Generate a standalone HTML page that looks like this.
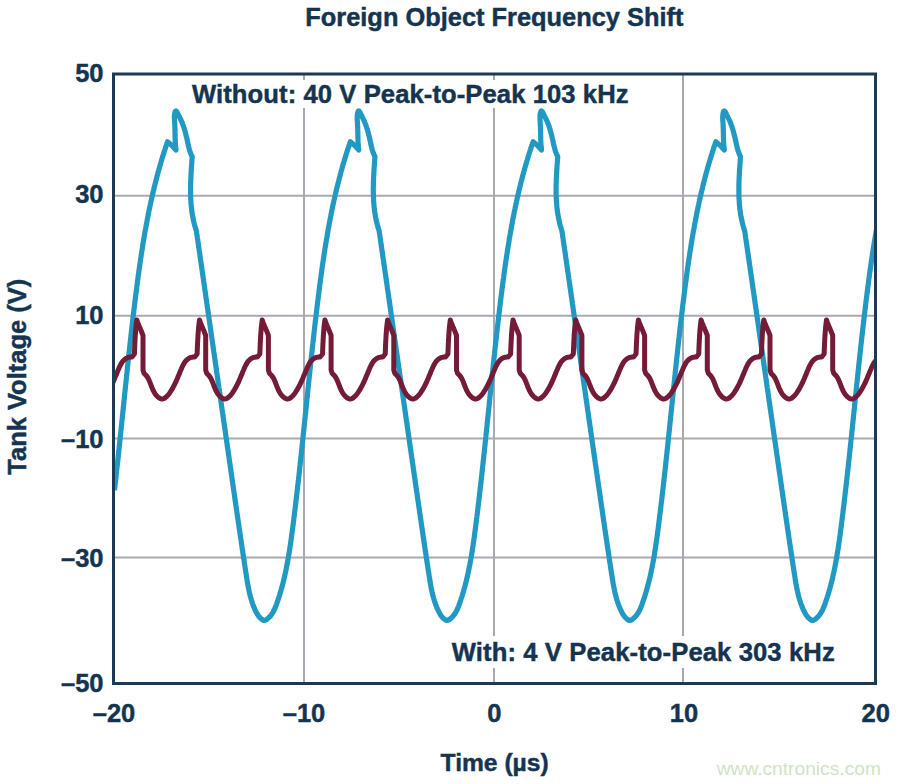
<!DOCTYPE html>
<html><head><meta charset="utf-8">
<style>
html,body{margin:0;padding:0;background:#fff;width:900px;height:784px;overflow:hidden}
svg{display:block}
text{font-family:"Liberation Sans",sans-serif;font-weight:bold;fill:#14344f;stroke:#14344f;stroke-width:0.45px}
</style></head><body>
<svg width="900" height="784" viewBox="0 0 900 784">
<defs><clipPath id="plotclip"><rect x="113.5" y="74" width="762" height="609.5"/></clipPath></defs>
<rect width="900" height="784" fill="#fff"/>
<!-- grid -->
<g stroke="#aaa9b1" stroke-width="2" fill="none">
<line x1="115" y1="195.8" x2="874" y2="195.8"/>
<line x1="115" y1="315.8" x2="874" y2="315.8"/>
<line x1="115" y1="438.5" x2="874" y2="438.5"/>
<line x1="115" y1="557.6" x2="874" y2="557.6"/>
<line x1="304" y1="75" x2="304" y2="682"/>
<line x1="494" y1="75" x2="494" y2="682"/>
<line x1="683" y1="75" x2="683" y2="682"/>
</g>
<!-- label backgrounds -->
<rect x="186" y="80" width="448" height="28" fill="#fff"/>
<rect x="446" y="636" width="394" height="32" fill="#fff"/>
<!-- waves -->
<g id="waves" fill="none" stroke-linejoin="round" stroke-linecap="butt" clip-path="url(#plotclip)">
<path d="M114.5,490.4 114.6,489.2 114.7,488.0 114.9,486.8 115.0,485.6 115.1,484.4 115.3,483.2 115.4,482.0 115.6,480.8 115.7,479.7 115.8,478.5 116.0,477.3 116.1,476.1 116.2,474.9 116.4,473.7 116.5,472.5 116.6,471.3 116.7,470.1 116.9,468.9 117.0,467.7 117.1,466.5 117.3,465.3 117.4,464.1 117.5,462.9 117.7,461.7 117.8,460.5 117.9,459.4 118.0,458.2 118.2,457.0 118.3,455.8 118.4,454.6 118.6,453.4 118.7,452.2 118.8,451.0 118.9,449.8 119.1,448.6 119.2,447.4 119.3,446.2 119.4,445.0 119.6,443.8 119.7,442.6 119.8,441.4 119.9,440.2 120.1,439.0 120.2,437.8 120.3,436.6 120.4,435.5 120.6,434.3 120.7,433.1 120.8,431.9 120.9,430.7 121.1,429.5 121.2,428.3 121.3,427.1 121.4,425.9 121.6,424.7 121.7,423.5 121.8,422.3 121.9,421.1 122.1,419.9 122.2,418.7 122.3,417.5 122.4,416.3 122.5,415.1 122.7,413.9 122.8,412.7 122.9,411.5 123.0,410.4 123.2,409.2 123.3,408.0 123.4,406.8 123.5,405.6 123.7,404.4 123.8,403.2 123.9,402.0 124.0,400.8 124.2,399.6 124.3,398.4 124.4,397.2 124.5,396.0 124.6,394.8 124.8,393.6 124.9,392.4 125.0,391.2 125.1,390.0 125.3,388.8 125.4,387.6 125.5,386.4 125.6,385.2 125.8,384.0 125.9,382.8 126.0,381.7 126.1,380.5 126.3,379.3 126.4,378.1 126.5,376.9 126.6,375.7 126.8,374.5 126.9,373.3 127.0,372.1 127.1,370.9 127.3,369.7 127.4,368.5 127.5,367.3 127.6,366.1 127.8,364.9 127.9,363.7 128.0,362.5 128.1,361.3 128.3,360.1 128.4,358.9 128.5,357.7 128.7,356.5 128.8,355.3 128.9,354.1 129.0,353.0 129.2,351.8 129.3,350.6 129.4,349.4 129.6,348.2 129.7,347.0 129.8,345.8 130.0,344.6 130.1,343.4 130.2,342.2 130.4,341.0 130.5,339.8 130.6,338.6 130.8,337.4 130.9,336.2 131.0,335.0 131.2,333.8 131.3,332.6 131.4,331.4 131.6,330.2 131.7,329.0 131.8,327.8 132.0,326.6 132.1,325.4 132.3,324.3 132.4,323.1 132.5,321.9 132.7,320.7 132.8,319.5 132.9,318.3 133.1,317.1 133.2,315.9 133.4,314.7 133.5,313.5 133.7,312.3 133.8,311.1 133.9,309.9 134.1,308.7 134.2,307.5 134.4,306.3 134.5,305.1 134.7,303.9 134.8,302.7 135.0,301.5 135.1,300.3 135.3,299.2 135.4,298.0 135.5,296.8 135.7,295.6 135.8,294.4 136.0,293.2 136.1,292.0 136.3,290.8 136.5,289.6 136.6,288.4 136.8,287.2 136.9,286.0 137.1,284.8 137.2,283.6 137.4,282.4 137.5,281.2 137.7,280.0 137.9,278.8 138.0,277.6 138.2,276.5 138.3,275.3 138.5,274.1 138.7,272.9 138.8,271.7 139.0,270.5 139.2,269.3 139.3,268.1 139.5,266.9 139.7,265.7 139.8,264.5 140.0,263.3 140.2,262.1 140.4,260.9 140.5,259.8 140.7,258.6 140.9,257.4 141.1,256.2 141.2,255.0 141.4,253.8 141.6,252.6 141.8,251.4 142.0,250.2 142.2,249.0 142.4,247.9 142.5,246.7 142.7,245.5 142.9,244.3 143.1,243.1 143.3,241.9 143.5,240.7 143.7,239.5 143.9,238.4 144.1,237.2 144.3,236.0 144.5,234.8 144.7,233.6 144.9,232.4 145.1,231.3 145.3,230.1 145.6,228.9 145.8,227.7 146.0,226.5 146.2,225.3 146.4,224.2 146.6,223.0 146.9,221.8 147.1,220.6 147.3,219.4 147.5,218.3 147.8,217.1 148.0,215.9 148.2,214.7 148.5,213.5 148.7,212.4 148.9,211.2 149.2,210.0 149.4,208.8 149.7,207.7 149.9,206.5 150.2,205.3 150.4,204.1 150.7,203.0 150.9,201.8 151.2,200.6 151.4,199.5 151.7,198.3 152.0,197.1 152.2,196.0 152.5,194.8 152.8,193.6 153.0,192.5 153.3,191.3 153.6,190.1 153.9,189.0 154.1,187.8 154.4,186.6 154.7,185.5 155.0,184.3 155.3,183.1 155.6,182.0 155.9,180.8 156.2,179.7 156.5,178.5 156.8,177.3 157.1,176.2 157.4,175.0 157.7,173.9 158.0,172.7 158.3,171.6 158.7,170.4 159.0,169.2 159.3,168.1 159.6,166.9 160.0,165.8 160.3,164.6 160.6,163.5 161.0,162.3 161.3,161.2 161.6,160.0 162.0,158.9 162.3,157.8 162.7,156.6 163.0,155.5 163.4,154.3 163.8,153.2 164.1,152.0 164.5,150.9 164.9,149.8 165.2,148.6 165.6,147.5 166.0,146.3 166.4,145.2 166.8,144.1 167.1,142.9 167.5,141.8 171.9,145.5 176.0,150.0 175.8,148.7 175.7,147.5 175.6,146.2 175.5,145.0 175.4,143.8 175.3,142.6 175.3,141.4 175.2,140.2 175.2,139.0 175.1,137.8 175.1,136.6 175.1,135.4 175.1,134.2 175.0,133.0 175.0,131.8 175.0,130.6 175.0,129.4 174.9,128.2 174.9,127.0 174.8,125.8 174.8,124.5 174.7,123.3 174.6,122.0 174.5,120.7 174.5,119.4 174.4,118.2 174.4,116.9 174.5,115.6 174.6,114.4 174.8,113.1 175.1,112.0 175.5,111.1 176.0,110.9 176.6,111.4 177.1,112.3 177.8,113.5 178.4,114.8 179.0,116.0 179.6,117.2 180.1,118.3 180.7,119.4 181.2,120.5 181.7,121.6 182.2,122.7 182.6,123.9 183.0,125.0 183.4,126.1 183.8,127.3 184.2,128.4 184.6,129.6 184.9,130.8 185.2,131.9 185.5,133.1 185.8,134.3 186.1,135.5 186.4,136.7 186.7,137.8 187.0,139.0 187.2,140.2 187.5,141.4 187.7,142.6 188.0,143.8 188.3,145.0 188.5,146.2 188.8,147.4 189.1,148.5 189.4,149.7 189.8,150.9 190.2,152.0 190.6,153.2 191.1,154.3 191.6,155.4 192.2,156.5 192.1,157.7 192.0,159.0 191.9,160.2 191.8,161.4 191.8,162.6 191.7,163.9 191.6,165.1 191.5,166.3 191.4,167.6 191.3,168.8 191.3,170.0 191.2,171.3 191.1,172.5 191.1,173.7 191.0,175.0 190.9,176.2 190.9,177.4 190.8,178.7 190.8,179.9 190.7,181.1 190.7,182.3 190.6,183.6 190.6,184.8 190.6,186.0 190.6,187.3 190.6,188.5 190.6,189.7 190.6,191.0 190.6,192.2 190.6,193.4 190.6,194.6 190.6,195.9 190.7,197.1 190.7,198.3 190.8,199.5 190.9,200.8 190.9,202.0 191.0,203.2 191.1,204.4 191.2,205.7 191.4,206.9 191.5,208.1 191.6,209.3 191.8,210.5 191.9,211.7 192.1,213.0 192.3,214.2 192.5,215.4 192.7,216.6 193.0,217.8 193.2,219.0 193.4,220.2 193.7,221.4 194.0,222.6 194.3,223.8 194.6,225.0 194.9,226.2 195.3,227.4 195.6,228.6 196.0,229.8 196.4,231.0 196.6,232.2 196.7,233.4 196.9,234.6 197.1,235.8 197.3,237.0 197.4,238.1 197.6,239.3 197.8,240.5 198.0,241.7 198.1,242.9 198.3,244.1 198.5,245.3 198.6,246.5 198.8,247.7 199.0,248.9 199.2,250.1 199.3,251.3 199.5,252.4 199.7,253.6 199.9,254.8 200.0,256.0 200.2,257.2 200.4,258.4 200.5,259.6 200.7,260.8 200.9,262.0 201.1,263.2 201.2,264.4 201.4,265.5 201.6,266.7 201.8,267.9 201.9,269.1 202.1,270.3 202.3,271.5 202.4,272.7 202.6,273.9 202.8,275.1 203.0,276.3 203.1,277.5 203.3,278.6 203.5,279.8 203.6,281.0 203.8,282.2 204.0,283.4 204.2,284.6 204.3,285.8 204.5,287.0 204.7,288.2 204.8,289.4 205.0,290.6 205.2,291.7 205.4,292.9 205.5,294.1 205.7,295.3 205.9,296.5 206.0,297.7 206.2,298.9 206.4,300.1 206.6,301.3 206.7,302.5 206.9,303.6 207.1,304.8 207.2,306.0 207.4,307.2 207.6,308.4 207.8,309.6 207.9,310.8 208.1,312.0 208.3,313.2 208.4,314.4 208.6,315.5 208.8,316.7 209.0,317.9 209.1,319.1 209.3,320.3 209.5,321.5 209.6,322.7 209.8,323.9 210.0,325.1 210.2,326.3 210.3,327.4 210.5,328.6 210.7,329.8 210.8,331.0 211.0,332.2 211.2,333.4 211.4,334.6 211.5,335.8 211.7,337.0 211.9,338.2 212.0,339.4 212.2,340.5 212.4,341.7 212.5,342.9 212.7,344.1 212.9,345.3 213.1,346.5 213.2,347.7 213.4,348.9 213.6,350.1 213.7,351.3 213.9,352.4 214.1,353.6 214.3,354.8 214.4,356.0 214.6,357.2 214.8,358.4 214.9,359.6 215.1,360.8 215.3,362.0 215.4,363.2 215.6,364.3 215.8,365.5 216.0,366.7 216.1,367.9 216.3,369.1 216.5,370.3 216.6,371.5 216.8,372.7 217.0,373.9 217.2,375.1 217.3,376.2 217.5,377.4 217.7,378.6 217.8,379.8 218.0,381.0 218.2,382.2 218.3,383.4 218.5,384.6 218.7,385.8 218.9,387.0 219.0,388.1 219.2,389.3 219.4,390.5 219.5,391.7 219.7,392.9 219.9,394.1 220.1,395.3 220.2,396.5 220.4,397.7 220.6,398.9 220.7,400.0 220.9,401.2 221.1,402.4 221.3,403.6 221.4,404.8 221.6,406.0 221.8,407.2 221.9,408.4 222.1,409.6 222.3,410.8 222.4,411.9 222.6,413.1 222.8,414.3 223.0,415.5 223.1,416.7 223.3,417.9 223.5,419.1 223.6,420.3 223.8,421.5 224.0,422.7 224.2,423.8 224.3,425.0 224.5,426.2 224.7,427.4 224.8,428.6 225.0,429.8 225.2,431.0 225.4,432.2 225.5,433.4 225.7,434.6 225.9,435.8 226.0,436.9 226.2,438.1 226.4,439.3 226.6,440.5 226.7,441.7 226.9,442.9 227.1,444.1 227.2,445.3 227.4,446.5 227.6,447.7 227.8,448.9 227.9,450.0 228.1,451.2 228.3,452.4 228.4,453.6 228.6,454.8 228.8,456.0 229.0,457.2 229.1,458.4 229.3,459.6 229.5,460.8 229.6,462.0 229.8,463.1 230.0,464.3 230.2,465.5 230.3,466.7 230.5,467.9 230.7,469.1 230.8,470.3 231.0,471.5 231.2,472.7 231.4,473.9 231.5,475.1 231.7,476.3 231.9,477.4 232.0,478.6 232.2,479.8 232.4,481.0 232.6,482.2 232.7,483.4 232.9,484.6 233.1,485.8 233.2,487.0 233.4,488.2 233.6,489.4 233.8,490.6 233.9,491.8 234.1,492.9 234.3,494.1 234.5,495.3 234.6,496.5 234.8,497.7 235.0,498.9 235.1,500.1 235.3,501.3 235.5,502.5 235.7,503.7 235.8,504.9 236.0,506.1 236.2,507.3 236.4,508.4 236.5,509.6 236.7,510.8 236.9,512.0 237.0,513.2 237.2,514.4 237.4,515.6 237.6,516.8 237.7,518.0 237.9,519.2 238.1,520.4 238.3,521.6 238.4,522.8 238.6,523.9 238.8,525.1 239.0,526.3 239.1,527.5 239.3,528.7 239.5,529.9 239.7,531.1 239.8,532.3 240.0,533.5 240.2,534.7 240.4,535.9 240.5,537.1 240.7,538.3 240.9,539.4 241.1,540.6 241.2,541.8 241.4,543.0 241.6,544.2 241.8,545.4 241.9,546.6 242.1,547.8 242.3,549.0 242.5,550.2 242.7,551.3 242.8,552.5 243.0,553.7 243.2,554.9 243.4,556.1 243.5,557.3 243.7,558.5 243.9,559.7 244.1,560.9 244.3,562.0 244.4,563.2 244.6,564.4 244.8,565.6 245.0,566.8 245.2,568.0 245.4,569.2 245.5,570.4 245.7,571.5 245.9,572.7 246.1,573.9 246.3,575.1 246.5,576.3 246.6,577.5 246.8,578.6 247.0,579.8 247.2,581.0 247.4,582.2 247.6,583.4 247.8,584.5 248.0,585.7 248.2,586.9 248.5,588.1 248.7,589.2 249.0,590.4 249.2,591.6 249.5,592.7 249.7,593.9 250.0,595.1 250.3,596.2 250.6,597.4 251.0,598.5 251.3,599.7 251.7,600.8 252.0,602.0 252.4,603.1 252.8,604.3 253.2,605.4 253.7,606.5 254.1,607.7 254.6,608.8 255.1,609.9 255.6,611.0 256.2,612.1 256.8,613.2 257.4,614.3 258.1,615.3 258.8,616.3 259.5,617.2 260.4,618.1 261.3,618.9 262.2,619.6 263.2,620.2 264.3,620.4 265.3,620.2 266.4,619.7 267.4,618.9 268.3,618.1 269.2,617.3 270.0,616.4 270.8,615.5 271.5,614.6 272.2,613.6 272.8,612.6 273.4,611.5 273.9,610.5 274.4,609.4 274.9,608.3 275.4,607.2 275.8,606.1 276.3,604.9 276.7,603.8 277.1,602.6 277.5,601.5 277.9,600.3 278.3,599.2 278.6,598.0 279.0,596.9 279.4,595.7 279.7,594.6 280.1,593.4 280.4,592.3 280.8,591.1 281.1,589.9 281.4,588.8 281.8,587.6 282.1,586.5 282.4,585.3 282.7,584.1 283.0,583.0 283.3,581.8 283.6,580.6 283.9,579.5 284.1,578.3 284.4,577.1 284.7,575.9 285.0,574.8 285.2,573.6 285.5,572.4 285.7,571.2 286.0,570.1 286.2,568.9 286.4,567.7 286.7,566.5 286.9,565.4 287.1,564.2 287.4,563.0 287.6,561.8 287.8,560.6 288.0,559.5 288.2,558.3 288.4,557.1 288.6,555.9 288.8,554.7 289.0,553.5 289.2,552.3 289.4,551.2 289.6,550.0 289.8,548.8 289.9,547.6 290.1,546.4 290.3,545.2 290.5,544.0 290.7,542.8 290.8,541.7 291.0,540.5 291.2,539.3 291.3,538.1 291.5,536.9 291.6,535.7 291.8,534.5 292.0,533.3 292.1,532.1 292.3,530.9 292.4,529.8 292.6,528.6 292.7,527.4 292.9,526.2 293.1,525.0 293.2,523.8 293.4,522.6 293.5,521.4 293.7,520.2 293.8,519.0 294.0,517.8 294.1,516.6 294.3,515.5 294.4,514.3 294.5,513.1 294.7,511.9 294.8,510.7 295.0,509.5 295.1,508.3 295.3,507.1 295.4,505.9 295.6,504.7 295.7,503.5 295.8,502.3 296.0,501.1 296.1,499.9 296.3,498.8 296.4,497.6 296.5,496.4 296.7,495.2 296.8,494.0 297.0,492.8 297.1,491.6 297.2,490.4 297.4,489.2 297.5,488.0 297.6,486.8 297.8,485.6 297.9,484.4 298.1,483.2 298.2,482.0 298.3,480.8 298.5,479.7 298.6,478.5 298.7,477.3 298.9,476.1 299.0,474.9 299.1,473.7 299.3,472.5 299.4,471.3 299.5,470.1 299.6,468.9 299.8,467.7 299.9,466.5 300.0,465.3 300.2,464.1 300.3,462.9 300.4,461.7 300.6,460.5 300.7,459.4 300.8,458.2 300.9,457.0 301.1,455.8 301.2,454.6 301.3,453.4 301.5,452.2 301.6,451.0 301.7,449.8 301.8,448.6 302.0,447.4 302.1,446.2 302.2,445.0 302.3,443.8 302.5,442.6 302.6,441.4 302.7,440.2 302.8,439.0 303.0,437.8 303.1,436.6 303.2,435.5 303.3,434.3 303.5,433.1 303.6,431.9 303.7,430.7 303.8,429.5 304.0,428.3 304.1,427.1 304.2,425.9 304.3,424.7 304.5,423.5 304.6,422.3 304.7,421.1 304.8,419.9 304.9,418.7 305.1,417.5 305.2,416.3 305.3,415.1 305.4,413.9 305.6,412.7 305.7,411.5 305.8,410.4 305.9,409.2 306.1,408.0 306.2,406.8 306.3,405.6 306.4,404.4 306.6,403.2 306.7,402.0 306.8,400.8 306.9,399.6 307.0,398.4 307.2,397.2 307.3,396.0 307.4,394.8 307.5,393.6 307.7,392.4 307.8,391.2 307.9,390.0 308.0,388.8 308.2,387.6 308.3,386.4 308.4,385.2 308.5,384.0 308.7,382.8 308.8,381.7 308.9,380.5 309.0,379.3 309.2,378.1 309.3,376.9 309.4,375.7 309.5,374.5 309.7,373.3 309.8,372.1 309.9,370.9 310.0,369.7 310.2,368.5 310.3,367.3 310.4,366.1 310.5,364.9 310.7,363.7 310.8,362.5 310.9,361.3 311.0,360.1 311.2,358.9 311.3,357.7 311.4,356.5 311.6,355.3 311.7,354.1 311.8,353.0 311.9,351.8 312.1,350.6 312.2,349.4 312.3,348.2 312.5,347.0 312.6,345.8 312.7,344.6 312.9,343.4 313.0,342.2 313.1,341.0 313.3,339.8 313.4,338.6 313.5,337.4 313.7,336.2 313.8,335.0 313.9,333.8 314.1,332.6 314.2,331.4 314.3,330.2 314.5,329.0 314.6,327.8 314.7,326.6 314.9,325.4 315.0,324.3 315.2,323.1 315.3,321.9 315.4,320.7 315.6,319.5 315.7,318.3 315.9,317.1 316.0,315.9 316.1,314.7 316.3,313.5 316.4,312.3 316.6,311.1 316.7,309.9 316.9,308.7 317.0,307.5 317.1,306.3 317.3,305.1 317.4,303.9 317.6,302.7 317.7,301.5 317.9,300.3 318.0,299.2 318.2,298.0 318.3,296.8 318.5,295.6 318.6,294.4 318.8,293.2 318.9,292.0 319.1,290.8 319.2,289.6 319.4,288.4 319.5,287.2 319.7,286.0 319.8,284.8 320.0,283.6 320.2,282.4 320.3,281.2 320.5,280.0 320.6,278.8 320.8,277.6 321.0,276.5 321.1,275.3 321.3,274.1 321.4,272.9 321.6,271.7 321.8,270.5 321.9,269.3 322.1,268.1 322.3,266.9 322.4,265.7 322.6,264.5 322.8,263.3 323.0,262.1 323.1,260.9 323.3,259.8 323.5,258.6 323.7,257.4 323.8,256.2 324.0,255.0 324.2,253.8 324.4,252.6 324.6,251.4 324.8,250.2 324.9,249.0 325.1,247.9 325.3,246.7 325.5,245.5 325.7,244.3 325.9,243.1 326.1,241.9 326.3,240.7 326.5,239.5 326.7,238.4 326.9,237.2 327.1,236.0 327.3,234.8 327.5,233.6 327.7,232.4 327.9,231.3 328.1,230.1 328.3,228.9 328.5,227.7 328.8,226.5 329.0,225.3 329.2,224.2 329.4,223.0 329.6,221.8 329.9,220.6 330.1,219.4 330.3,218.3 330.5,217.1 330.8,215.9 331.0,214.7 331.2,213.5 331.5,212.4 331.7,211.2 331.9,210.0 332.2,208.8 332.4,207.7 332.7,206.5 332.9,205.3 333.2,204.1 333.4,203.0 333.7,201.8 333.9,200.6 334.2,199.5 334.5,198.3 334.7,197.1 335.0,196.0 335.3,194.8 335.5,193.6 335.8,192.5 336.1,191.3 336.4,190.1 336.6,189.0 336.9,187.8 337.2,186.6 337.5,185.5 337.8,184.3 338.1,183.1 338.4,182.0 338.7,180.8 339.0,179.7 339.3,178.5 339.6,177.3 339.9,176.2 340.2,175.0 340.5,173.9 340.8,172.7 341.1,171.6 341.4,170.4 341.8,169.2 342.1,168.1 342.4,166.9 342.7,165.8 343.1,164.6 343.4,163.5 343.7,162.3 344.1,161.2 344.4,160.0 344.8,158.9 345.1,157.8 345.5,156.6 345.8,155.5 346.2,154.3 346.5,153.2 346.9,152.0 347.3,150.9 347.6,149.8 348.0,148.6 348.4,147.5 348.8,146.3 349.1,145.2 349.5,144.1 349.9,142.9 350.3,141.8 354.7,145.5 358.8,150.0 358.6,148.7 358.5,147.5 358.4,146.2 358.3,145.0 358.2,143.8 358.1,142.6 358.0,141.4 358.0,140.2 358.0,139.0 357.9,137.8 357.9,136.6 357.9,135.4 357.8,134.2 357.8,133.0 357.8,131.8 357.8,130.6 357.7,129.4 357.7,128.2 357.7,127.0 357.6,125.8 357.5,124.5 357.5,123.3 357.4,122.0 357.3,120.7 357.2,119.4 357.2,118.2 357.2,116.9 357.3,115.6 357.4,114.4 357.6,113.1 357.9,112.0 358.3,111.1 358.8,110.9 359.3,111.4 359.9,112.3 360.5,113.5 361.2,114.8 361.8,116.0 362.3,117.2 362.9,118.3 363.5,119.4 364.0,120.5 364.5,121.6 364.9,122.7 365.4,123.9 365.8,125.0 366.2,126.1 366.6,127.3 367.0,128.4 367.3,129.6 367.7,130.8 368.0,131.9 368.3,133.1 368.6,134.3 368.9,135.5 369.2,136.7 369.5,137.8 369.7,139.0 370.0,140.2 370.3,141.4 370.5,142.6 370.8,143.8 371.0,145.0 371.3,146.2 371.6,147.4 371.9,148.5 372.2,149.7 372.6,150.9 373.0,152.0 373.4,153.2 373.9,154.3 374.4,155.4 375.0,156.5 374.9,157.7 374.8,159.0 374.7,160.2 374.6,161.4 374.5,162.6 374.4,163.9 374.4,165.1 374.3,166.3 374.2,167.6 374.1,168.8 374.0,170.0 374.0,171.3 373.9,172.5 373.8,173.7 373.8,175.0 373.7,176.2 373.6,177.4 373.6,178.7 373.5,179.9 373.5,181.1 373.4,182.3 373.4,183.6 373.4,184.8 373.4,186.0 373.3,187.3 373.3,188.5 373.3,189.7 373.3,191.0 373.3,192.2 373.4,193.4 373.4,194.6 373.4,195.9 373.5,197.1 373.5,198.3 373.6,199.5 373.6,200.8 373.7,202.0 373.8,203.2 373.9,204.4 374.0,205.7 374.1,206.9 374.3,208.1 374.4,209.3 374.5,210.5 374.7,211.7 374.9,213.0 375.1,214.2 375.3,215.4 375.5,216.6 375.7,217.8 376.0,219.0 376.2,220.2 376.5,221.4 376.8,222.6 377.1,223.8 377.4,225.0 377.7,226.2 378.0,227.4 378.4,228.6 378.8,229.8 379.2,231.0 379.3,232.2 379.5,233.4 379.7,234.6 379.9,235.8 380.0,237.0 380.2,238.1 380.4,239.3 380.6,240.5 380.7,241.7 380.9,242.9 381.1,244.1 381.2,245.3 381.4,246.5 381.6,247.7 381.8,248.9 381.9,250.1 382.1,251.3 382.3,252.4 382.5,253.6 382.6,254.8 382.8,256.0 383.0,257.2 383.1,258.4 383.3,259.6 383.5,260.8 383.7,262.0 383.8,263.2 384.0,264.4 384.2,265.5 384.4,266.7 384.5,267.9 384.7,269.1 384.9,270.3 385.0,271.5 385.2,272.7 385.4,273.9 385.6,275.1 385.7,276.3 385.9,277.5 386.1,278.6 386.2,279.8 386.4,281.0 386.6,282.2 386.8,283.4 386.9,284.6 387.1,285.8 387.3,287.0 387.4,288.2 387.6,289.4 387.8,290.6 388.0,291.7 388.1,292.9 388.3,294.1 388.5,295.3 388.6,296.5 388.8,297.7 389.0,298.9 389.2,300.1 389.3,301.3 389.5,302.5 389.7,303.6 389.8,304.8 390.0,306.0 390.2,307.2 390.4,308.4 390.5,309.6 390.7,310.8 390.9,312.0 391.0,313.2 391.2,314.4 391.4,315.5 391.6,316.7 391.7,317.9 391.9,319.1 392.1,320.3 392.2,321.5 392.4,322.7 392.6,323.9 392.8,325.1 392.9,326.3 393.1,327.4 393.3,328.6 393.4,329.8 393.6,331.0 393.8,332.2 393.9,333.4 394.1,334.6 394.3,335.8 394.5,337.0 394.6,338.2 394.8,339.4 395.0,340.5 395.1,341.7 395.3,342.9 395.5,344.1 395.7,345.3 395.8,346.5 396.0,347.7 396.2,348.9 396.3,350.1 396.5,351.3 396.7,352.4 396.9,353.6 397.0,354.8 397.2,356.0 397.4,357.2 397.5,358.4 397.7,359.6 397.9,360.8 398.0,362.0 398.2,363.2 398.4,364.3 398.6,365.5 398.7,366.7 398.9,367.9 399.1,369.1 399.2,370.3 399.4,371.5 399.6,372.7 399.8,373.9 399.9,375.1 400.1,376.2 400.3,377.4 400.4,378.6 400.6,379.8 400.8,381.0 400.9,382.2 401.1,383.4 401.3,384.6 401.5,385.8 401.6,387.0 401.8,388.1 402.0,389.3 402.1,390.5 402.3,391.7 402.5,392.9 402.7,394.1 402.8,395.3 403.0,396.5 403.2,397.7 403.3,398.9 403.5,400.0 403.7,401.2 403.9,402.4 404.0,403.6 404.2,404.8 404.4,406.0 404.5,407.2 404.7,408.4 404.9,409.6 405.0,410.8 405.2,411.9 405.4,413.1 405.6,414.3 405.7,415.5 405.9,416.7 406.1,417.9 406.2,419.1 406.4,420.3 406.6,421.5 406.8,422.7 406.9,423.8 407.1,425.0 407.3,426.2 407.4,427.4 407.6,428.6 407.8,429.8 408.0,431.0 408.1,432.2 408.3,433.4 408.5,434.6 408.6,435.8 408.8,436.9 409.0,438.1 409.2,439.3 409.3,440.5 409.5,441.7 409.7,442.9 409.8,444.1 410.0,445.3 410.2,446.5 410.3,447.7 410.5,448.9 410.7,450.0 410.9,451.2 411.0,452.4 411.2,453.6 411.4,454.8 411.5,456.0 411.7,457.2 411.9,458.4 412.1,459.6 412.2,460.8 412.4,462.0 412.6,463.1 412.8,464.3 412.9,465.5 413.1,466.7 413.3,467.9 413.4,469.1 413.6,470.3 413.8,471.5 414.0,472.7 414.1,473.9 414.3,475.1 414.5,476.3 414.6,477.4 414.8,478.6 415.0,479.8 415.2,481.0 415.3,482.2 415.5,483.4 415.7,484.6 415.8,485.8 416.0,487.0 416.2,488.2 416.4,489.4 416.5,490.6 416.7,491.8 416.9,492.9 417.1,494.1 417.2,495.3 417.4,496.5 417.6,497.7 417.7,498.9 417.9,500.1 418.1,501.3 418.3,502.5 418.4,503.7 418.6,504.9 418.8,506.1 419.0,507.3 419.1,508.4 419.3,509.6 419.5,510.8 419.6,512.0 419.8,513.2 420.0,514.4 420.2,515.6 420.3,516.8 420.5,518.0 420.7,519.2 420.9,520.4 421.0,521.6 421.2,522.8 421.4,523.9 421.6,525.1 421.7,526.3 421.9,527.5 422.1,528.7 422.3,529.9 422.4,531.1 422.6,532.3 422.8,533.5 423.0,534.7 423.1,535.9 423.3,537.1 423.5,538.3 423.7,539.4 423.8,540.6 424.0,541.8 424.2,543.0 424.4,544.2 424.5,545.4 424.7,546.6 424.9,547.8 425.1,549.0 425.2,550.2 425.4,551.3 425.6,552.5 425.8,553.7 426.0,554.9 426.1,556.1 426.3,557.3 426.5,558.5 426.7,559.7 426.9,560.9 427.0,562.0 427.2,563.2 427.4,564.4 427.6,565.6 427.8,566.8 427.9,568.0 428.1,569.2 428.3,570.4 428.5,571.5 428.7,572.7 428.9,573.9 429.0,575.1 429.2,576.3 429.4,577.5 429.6,578.6 429.8,579.8 430.0,581.0 430.2,582.2 430.4,583.4 430.6,584.5 430.8,585.7 431.0,586.9 431.2,588.1 431.5,589.2 431.7,590.4 432.0,591.6 432.2,592.7 432.5,593.9 432.8,595.1 433.1,596.2 433.4,597.4 433.7,598.5 434.1,599.7 434.4,600.8 434.8,602.0 435.2,603.1 435.6,604.3 436.0,605.4 436.5,606.5 436.9,607.7 437.4,608.8 437.9,609.9 438.4,611.0 439.0,612.1 439.6,613.2 440.2,614.3 440.8,615.3 441.5,616.3 442.3,617.2 443.1,618.1 444.0,618.9 445.0,619.6 446.0,620.2 447.0,620.4 448.1,620.2 449.1,619.7 450.1,618.9 451.1,618.1 452.0,617.3 452.8,616.4 453.5,615.5 454.3,614.6 454.9,613.6 455.6,612.6 456.1,611.5 456.7,610.5 457.2,609.4 457.7,608.3 458.2,607.2 458.6,606.1 459.0,604.9 459.5,603.8 459.9,602.6 460.3,601.5 460.7,600.3 461.0,599.2 461.4,598.0 461.8,596.9 462.2,595.7 462.5,594.6 462.9,593.4 463.2,592.3 463.6,591.1 463.9,589.9 464.2,588.8 464.5,587.6 464.9,586.5 465.2,585.3 465.5,584.1 465.8,583.0 466.1,581.8 466.4,580.6 466.6,579.5 466.9,578.3 467.2,577.1 467.5,575.9 467.7,574.8 468.0,573.6 468.2,572.4 468.5,571.2 468.7,570.1 469.0,568.9 469.2,567.7 469.4,566.5 469.7,565.4 469.9,564.2 470.1,563.0 470.3,561.8 470.6,560.6 470.8,559.5 471.0,558.3 471.2,557.1 471.4,555.9 471.6,554.7 471.8,553.5 472.0,552.3 472.2,551.2 472.4,550.0 472.5,548.8 472.7,547.6 472.9,546.4 473.1,545.2 473.2,544.0 473.4,542.8 473.6,541.7 473.8,540.5 473.9,539.3 474.1,538.1 474.3,536.9 474.4,535.7 474.6,534.5 474.7,533.3 474.9,532.1 475.1,530.9 475.2,529.8 475.4,528.6 475.5,527.4 475.7,526.2 475.8,525.0 476.0,523.8 476.1,522.6 476.3,521.4 476.4,520.2 476.6,519.0 476.7,517.8 476.9,516.6 477.0,515.5 477.2,514.3 477.3,513.1 477.5,511.9 477.6,510.7 477.8,509.5 477.9,508.3 478.0,507.1 478.2,505.9 478.3,504.7 478.5,503.5 478.6,502.3 478.8,501.1 478.9,499.9 479.0,498.8 479.2,497.6 479.3,496.4 479.5,495.2 479.6,494.0 479.7,492.8 479.9,491.6 480.0,490.4 480.1,489.2 480.3,488.0 480.4,486.8 480.6,485.6 480.7,484.4 480.8,483.2 481.0,482.0 481.1,480.8 481.2,479.7 481.4,478.5 481.5,477.3 481.6,476.1 481.8,474.9 481.9,473.7 482.0,472.5 482.2,471.3 482.3,470.1 482.4,468.9 482.5,467.7 482.7,466.5 482.8,465.3 482.9,464.1 483.1,462.9 483.2,461.7 483.3,460.5 483.5,459.4 483.6,458.2 483.7,457.0 483.8,455.8 484.0,454.6 484.1,453.4 484.2,452.2 484.4,451.0 484.5,449.8 484.6,448.6 484.7,447.4 484.9,446.2 485.0,445.0 485.1,443.8 485.2,442.6 485.4,441.4 485.5,440.2 485.6,439.0 485.7,437.8 485.9,436.6 486.0,435.5 486.1,434.3 486.2,433.1 486.4,431.9 486.5,430.7 486.6,429.5 486.7,428.3 486.9,427.1 487.0,425.9 487.1,424.7 487.2,423.5 487.3,422.3 487.5,421.1 487.6,419.9 487.7,418.7 487.8,417.5 488.0,416.3 488.1,415.1 488.2,413.9 488.3,412.7 488.5,411.5 488.6,410.4 488.7,409.2 488.8,408.0 489.0,406.8 489.1,405.6 489.2,404.4 489.3,403.2 489.4,402.0 489.6,400.8 489.7,399.6 489.8,398.4 489.9,397.2 490.1,396.0 490.2,394.8 490.3,393.6 490.4,392.4 490.6,391.2 490.7,390.0 490.8,388.8 490.9,387.6 491.0,386.4 491.2,385.2 491.3,384.0 491.4,382.8 491.5,381.7 491.7,380.5 491.8,379.3 491.9,378.1 492.0,376.9 492.2,375.7 492.3,374.5 492.4,373.3 492.5,372.1 492.7,370.9 492.8,369.7 492.9,368.5 493.1,367.3 493.2,366.1 493.3,364.9 493.4,363.7 493.6,362.5 493.7,361.3 493.8,360.1 493.9,358.9 494.1,357.7 494.2,356.5 494.3,355.3 494.5,354.1 494.6,353.0 494.7,351.8 494.8,350.6 495.0,349.4 495.1,348.2 495.2,347.0 495.4,345.8 495.5,344.6 495.6,343.4 495.8,342.2 495.9,341.0 496.0,339.8 496.2,338.6 496.3,337.4 496.4,336.2 496.6,335.0 496.7,333.8 496.8,332.6 497.0,331.4 497.1,330.2 497.2,329.0 497.4,327.8 497.5,326.6 497.7,325.4 497.8,324.3 497.9,323.1 498.1,321.9 498.2,320.7 498.3,319.5 498.5,318.3 498.6,317.1 498.8,315.9 498.9,314.7 499.1,313.5 499.2,312.3 499.3,311.1 499.5,309.9 499.6,308.7 499.8,307.5 499.9,306.3 500.1,305.1 500.2,303.9 500.3,302.7 500.5,301.5 500.6,300.3 500.8,299.2 500.9,298.0 501.1,296.8 501.2,295.6 501.4,294.4 501.5,293.2 501.7,292.0 501.8,290.8 502.0,289.6 502.1,288.4 502.3,287.2 502.5,286.0 502.6,284.8 502.8,283.6 502.9,282.4 503.1,281.2 503.2,280.0 503.4,278.8 503.6,277.6 503.7,276.5 503.9,275.3 504.0,274.1 504.2,272.9 504.4,271.7 504.5,270.5 504.7,269.3 504.9,268.1 505.0,266.9 505.2,265.7 505.4,264.5 505.6,263.3 505.7,262.1 505.9,260.9 506.1,259.8 506.3,258.6 506.4,257.4 506.6,256.2 506.8,255.0 507.0,253.8 507.2,252.6 507.3,251.4 507.5,250.2 507.7,249.0 507.9,247.9 508.1,246.7 508.3,245.5 508.5,244.3 508.7,243.1 508.9,241.9 509.1,240.7 509.2,239.5 509.4,238.4 509.6,237.2 509.8,236.0 510.1,234.8 510.3,233.6 510.5,232.4 510.7,231.3 510.9,230.1 511.1,228.9 511.3,227.7 511.5,226.5 511.7,225.3 512.0,224.2 512.2,223.0 512.4,221.8 512.6,220.6 512.8,219.4 513.1,218.3 513.3,217.1 513.5,215.9 513.8,214.7 514.0,213.5 514.2,212.4 514.5,211.2 514.7,210.0 515.0,208.8 515.2,207.7 515.5,206.5 515.7,205.3 516.0,204.1 516.2,203.0 516.5,201.8 516.7,200.6 517.0,199.5 517.2,198.3 517.5,197.1 517.8,196.0 518.0,194.8 518.3,193.6 518.6,192.5 518.8,191.3 519.1,190.1 519.4,189.0 519.7,187.8 520.0,186.6 520.3,185.5 520.5,184.3 520.8,183.1 521.1,182.0 521.4,180.8 521.7,179.7 522.0,178.5 522.3,177.3 522.6,176.2 522.9,175.0 523.3,173.9 523.6,172.7 523.9,171.6 524.2,170.4 524.5,169.2 524.8,168.1 525.2,166.9 525.5,165.8 525.8,164.6 526.2,163.5 526.5,162.3 526.8,161.2 527.2,160.0 527.5,158.9 527.9,157.8 528.2,156.6 528.6,155.5 528.9,154.3 529.3,153.2 529.7,152.0 530.0,150.9 530.4,149.8 530.8,148.6 531.1,147.5 531.5,146.3 531.9,145.2 532.3,144.1 532.7,142.9 533.1,141.8 537.5,145.5 541.5,150.0 541.4,148.7 541.3,147.5 541.1,146.2 541.0,145.0 540.9,143.8 540.9,142.6 540.8,141.4 540.8,140.2 540.7,139.0 540.7,137.8 540.7,136.6 540.6,135.4 540.6,134.2 540.6,133.0 540.6,131.8 540.5,130.6 540.5,129.4 540.5,128.2 540.4,127.0 540.4,125.8 540.3,124.5 540.2,123.3 540.2,122.0 540.1,120.7 540.0,119.4 540.0,118.2 540.0,116.9 540.0,115.6 540.2,114.4 540.4,113.1 540.7,112.0 541.1,111.1 541.5,110.9 542.1,111.4 542.7,112.3 543.3,113.5 543.9,114.8 544.5,116.0 545.1,117.2 545.7,118.3 546.2,119.4 546.7,120.5 547.2,121.6 547.7,122.7 548.1,123.9 548.6,125.0 549.0,126.1 549.4,127.3 549.7,128.4 550.1,129.6 550.4,130.8 550.8,131.9 551.1,133.1 551.4,134.3 551.7,135.5 552.0,136.7 552.2,137.8 552.5,139.0 552.8,140.2 553.0,141.4 553.3,142.6 553.5,143.8 553.8,145.0 554.1,146.2 554.4,147.4 554.7,148.5 555.0,149.7 555.3,150.9 555.7,152.0 556.2,153.2 556.6,154.3 557.2,155.4 557.7,156.5 557.7,157.7 557.6,159.0 557.5,160.2 557.4,161.4 557.3,162.6 557.2,163.9 557.1,165.1 557.0,166.3 557.0,167.6 556.9,168.8 556.8,170.0 556.7,171.3 556.7,172.5 556.6,173.7 556.5,175.0 556.5,176.2 556.4,177.4 556.3,178.7 556.3,179.9 556.3,181.1 556.2,182.3 556.2,183.6 556.1,184.8 556.1,186.0 556.1,187.3 556.1,188.5 556.1,189.7 556.1,191.0 556.1,192.2 556.1,193.4 556.1,194.6 556.2,195.9 556.2,197.1 556.3,198.3 556.3,199.5 556.4,200.8 556.5,202.0 556.6,203.2 556.7,204.4 556.8,205.7 556.9,206.9 557.0,208.1 557.2,209.3 557.3,210.5 557.5,211.7 557.7,213.0 557.8,214.2 558.1,215.4 558.3,216.6 558.5,217.8 558.7,219.0 559.0,220.2 559.3,221.4 559.5,222.6 559.8,223.8 560.1,225.0 560.5,226.2 560.8,227.4 561.2,228.6 561.5,229.8 561.9,231.0 562.1,232.2 562.3,233.4 562.5,234.6 562.6,235.8 562.8,237.0 563.0,238.1 563.2,239.3 563.3,240.5 563.5,241.7 563.7,242.9 563.8,244.1 564.0,245.3 564.2,246.5 564.4,247.7 564.5,248.9 564.7,250.1 564.9,251.3 565.1,252.4 565.2,253.6 565.4,254.8 565.6,256.0 565.7,257.2 565.9,258.4 566.1,259.6 566.3,260.8 566.4,262.0 566.6,263.2 566.8,264.4 566.9,265.5 567.1,266.7 567.3,267.9 567.5,269.1 567.6,270.3 567.8,271.5 568.0,272.7 568.2,273.9 568.3,275.1 568.5,276.3 568.7,277.5 568.8,278.6 569.0,279.8 569.2,281.0 569.4,282.2 569.5,283.4 569.7,284.6 569.9,285.8 570.0,287.0 570.2,288.2 570.4,289.4 570.6,290.6 570.7,291.7 570.9,292.9 571.1,294.1 571.2,295.3 571.4,296.5 571.6,297.7 571.8,298.9 571.9,300.1 572.1,301.3 572.3,302.5 572.4,303.6 572.6,304.8 572.8,306.0 573.0,307.2 573.1,308.4 573.3,309.6 573.5,310.8 573.6,312.0 573.8,313.2 574.0,314.4 574.2,315.5 574.3,316.7 574.5,317.9 574.7,319.1 574.8,320.3 575.0,321.5 575.2,322.7 575.4,323.9 575.5,325.1 575.7,326.3 575.9,327.4 576.0,328.6 576.2,329.8 576.4,331.0 576.5,332.2 576.7,333.4 576.9,334.6 577.1,335.8 577.2,337.0 577.4,338.2 577.6,339.4 577.7,340.5 577.9,341.7 578.1,342.9 578.3,344.1 578.4,345.3 578.6,346.5 578.8,347.7 578.9,348.9 579.1,350.1 579.3,351.3 579.5,352.4 579.6,353.6 579.8,354.8 580.0,356.0 580.1,357.2 580.3,358.4 580.5,359.6 580.6,360.8 580.8,362.0 581.0,363.2 581.2,364.3 581.3,365.5 581.5,366.7 581.7,367.9 581.8,369.1 582.0,370.3 582.2,371.5 582.4,372.7 582.5,373.9 582.7,375.1 582.9,376.2 583.0,377.4 583.2,378.6 583.4,379.8 583.5,381.0 583.7,382.2 583.9,383.4 584.1,384.6 584.2,385.8 584.4,387.0 584.6,388.1 584.7,389.3 584.9,390.5 585.1,391.7 585.3,392.9 585.4,394.1 585.6,395.3 585.8,396.5 585.9,397.7 586.1,398.9 586.3,400.0 586.4,401.2 586.6,402.4 586.8,403.6 587.0,404.8 587.1,406.0 587.3,407.2 587.5,408.4 587.6,409.6 587.8,410.8 588.0,411.9 588.2,413.1 588.3,414.3 588.5,415.5 588.7,416.7 588.8,417.9 589.0,419.1 589.2,420.3 589.4,421.5 589.5,422.7 589.7,423.8 589.9,425.0 590.0,426.2 590.2,427.4 590.4,428.6 590.6,429.8 590.7,431.0 590.9,432.2 591.1,433.4 591.2,434.6 591.4,435.8 591.6,436.9 591.7,438.1 591.9,439.3 592.1,440.5 592.3,441.7 592.4,442.9 592.6,444.1 592.8,445.3 592.9,446.5 593.1,447.7 593.3,448.9 593.5,450.0 593.6,451.2 593.8,452.4 594.0,453.6 594.1,454.8 594.3,456.0 594.5,457.2 594.7,458.4 594.8,459.6 595.0,460.8 595.2,462.0 595.3,463.1 595.5,464.3 595.7,465.5 595.9,466.7 596.0,467.9 596.2,469.1 596.4,470.3 596.6,471.5 596.7,472.7 596.9,473.9 597.1,475.1 597.2,476.3 597.4,477.4 597.6,478.6 597.8,479.8 597.9,481.0 598.1,482.2 598.3,483.4 598.4,484.6 598.6,485.8 598.8,487.0 599.0,488.2 599.1,489.4 599.3,490.6 599.5,491.8 599.7,492.9 599.8,494.1 600.0,495.3 600.2,496.5 600.3,497.7 600.5,498.9 600.7,500.1 600.9,501.3 601.0,502.5 601.2,503.7 601.4,504.9 601.5,506.1 601.7,507.3 601.9,508.4 602.1,509.6 602.2,510.8 602.4,512.0 602.6,513.2 602.8,514.4 602.9,515.6 603.1,516.8 603.3,518.0 603.5,519.2 603.6,520.4 603.8,521.6 604.0,522.8 604.2,523.9 604.3,525.1 604.5,526.3 604.7,527.5 604.8,528.7 605.0,529.9 605.2,531.1 605.4,532.3 605.5,533.5 605.7,534.7 605.9,535.9 606.1,537.1 606.2,538.3 606.4,539.4 606.6,540.6 606.8,541.8 607.0,543.0 607.1,544.2 607.3,545.4 607.5,546.6 607.7,547.8 607.8,549.0 608.0,550.2 608.2,551.3 608.4,552.5 608.6,553.7 608.7,554.9 608.9,556.1 609.1,557.3 609.3,558.5 609.4,559.7 609.6,560.9 609.8,562.0 610.0,563.2 610.2,564.4 610.4,565.6 610.5,566.8 610.7,568.0 610.9,569.2 611.1,570.4 611.3,571.5 611.4,572.7 611.6,573.9 611.8,575.1 612.0,576.3 612.2,577.5 612.4,578.6 612.6,579.8 612.8,581.0 612.9,582.2 613.1,583.4 613.4,584.5 613.6,585.7 613.8,586.9 614.0,588.1 614.2,589.2 614.5,590.4 614.7,591.6 615.0,592.7 615.3,593.9 615.6,595.1 615.9,596.2 616.2,597.4 616.5,598.5 616.8,599.7 617.2,600.8 617.6,602.0 618.0,603.1 618.4,604.3 618.8,605.4 619.2,606.5 619.7,607.7 620.2,608.8 620.7,609.9 621.2,611.0 621.7,612.1 622.3,613.2 622.9,614.3 623.6,615.3 624.3,616.3 625.1,617.2 625.9,618.1 626.8,618.9 627.7,619.6 628.8,620.2 629.8,620.4 630.9,620.2 631.9,619.7 632.9,618.9 633.8,618.1 634.7,617.3 635.5,616.4 636.3,615.5 637.0,614.6 637.7,613.6 638.3,612.6 638.9,611.5 639.5,610.5 640.0,609.4 640.5,608.3 640.9,607.2 641.4,606.1 641.8,604.9 642.2,603.8 642.6,602.6 643.0,601.5 643.4,600.3 643.8,599.2 644.2,598.0 644.6,596.9 644.9,595.7 645.3,594.6 645.6,593.4 646.0,592.3 646.3,591.1 646.7,589.9 647.0,588.8 647.3,587.6 647.6,586.5 647.9,585.3 648.2,584.1 648.5,583.0 648.8,581.8 649.1,580.6 649.4,579.5 649.7,578.3 650.0,577.1 650.2,575.9 650.5,574.8 650.8,573.6 651.0,572.4 651.3,571.2 651.5,570.1 651.7,568.9 652.0,567.7 652.2,566.5 652.4,565.4 652.7,564.2 652.9,563.0 653.1,561.8 653.3,560.6 653.5,559.5 653.8,558.3 654.0,557.1 654.2,555.9 654.4,554.7 654.6,553.5 654.7,552.3 654.9,551.2 655.1,550.0 655.3,548.8 655.5,547.6 655.7,546.4 655.8,545.2 656.0,544.0 656.2,542.8 656.4,541.7 656.5,540.5 656.7,539.3 656.9,538.1 657.0,536.9 657.2,535.7 657.4,534.5 657.5,533.3 657.7,532.1 657.8,530.9 658.0,529.8 658.1,528.6 658.3,527.4 658.4,526.2 658.6,525.0 658.7,523.8 658.9,522.6 659.0,521.4 659.2,520.2 659.3,519.0 659.5,517.8 659.6,516.6 659.8,515.5 659.9,514.3 660.1,513.1 660.2,511.9 660.4,510.7 660.5,509.5 660.7,508.3 660.8,507.1 661.0,505.9 661.1,504.7 661.2,503.5 661.4,502.3 661.5,501.1 661.7,499.9 661.8,498.8 661.9,497.6 662.1,496.4 662.2,495.2 662.4,494.0 662.5,492.8 662.6,491.6 662.8,490.4 662.9,489.2 663.1,488.0 663.2,486.8 663.3,485.6 663.5,484.4 663.6,483.2 663.7,482.0 663.9,480.8 664.0,479.7 664.1,478.5 664.3,477.3 664.4,476.1 664.5,474.9 664.7,473.7 664.8,472.5 664.9,471.3 665.1,470.1 665.2,468.9 665.3,467.7 665.5,466.5 665.6,465.3 665.7,464.1 665.8,462.9 666.0,461.7 666.1,460.5 666.2,459.4 666.4,458.2 666.5,457.0 666.6,455.8 666.7,454.6 666.9,453.4 667.0,452.2 667.1,451.0 667.2,449.8 667.4,448.6 667.5,447.4 667.6,446.2 667.8,445.0 667.9,443.8 668.0,442.6 668.1,441.4 668.3,440.2 668.4,439.0 668.5,437.8 668.6,436.6 668.8,435.5 668.9,434.3 669.0,433.1 669.1,431.9 669.3,430.7 669.4,429.5 669.5,428.3 669.6,427.1 669.7,425.9 669.9,424.7 670.0,423.5 670.1,422.3 670.2,421.1 670.4,419.9 670.5,418.7 670.6,417.5 670.7,416.3 670.9,415.1 671.0,413.9 671.1,412.7 671.2,411.5 671.4,410.4 671.5,409.2 671.6,408.0 671.7,406.8 671.8,405.6 672.0,404.4 672.1,403.2 672.2,402.0 672.3,400.8 672.5,399.6 672.6,398.4 672.7,397.2 672.8,396.0 673.0,394.8 673.1,393.6 673.2,392.4 673.3,391.2 673.4,390.0 673.6,388.8 673.7,387.6 673.8,386.4 673.9,385.2 674.1,384.0 674.2,382.8 674.3,381.7 674.4,380.5 674.6,379.3 674.7,378.1 674.8,376.9 674.9,375.7 675.1,374.5 675.2,373.3 675.3,372.1 675.4,370.9 675.6,369.7 675.7,368.5 675.8,367.3 675.9,366.1 676.1,364.9 676.2,363.7 676.3,362.5 676.5,361.3 676.6,360.1 676.7,358.9 676.8,357.7 677.0,356.5 677.1,355.3 677.2,354.1 677.4,353.0 677.5,351.8 677.6,350.6 677.7,349.4 677.9,348.2 678.0,347.0 678.1,345.8 678.3,344.6 678.4,343.4 678.5,342.2 678.7,341.0 678.8,339.8 678.9,338.6 679.1,337.4 679.2,336.2 679.3,335.0 679.5,333.8 679.6,332.6 679.7,331.4 679.9,330.2 680.0,329.0 680.1,327.8 680.3,326.6 680.4,325.4 680.6,324.3 680.7,323.1 680.8,321.9 681.0,320.7 681.1,319.5 681.3,318.3 681.4,317.1 681.5,315.9 681.7,314.7 681.8,313.5 682.0,312.3 682.1,311.1 682.2,309.9 682.4,308.7 682.5,307.5 682.7,306.3 682.8,305.1 683.0,303.9 683.1,302.7 683.3,301.5 683.4,300.3 683.6,299.2 683.7,298.0 683.9,296.8 684.0,295.6 684.2,294.4 684.3,293.2 684.5,292.0 684.6,290.8 684.8,289.6 684.9,288.4 685.1,287.2 685.2,286.0 685.4,284.8 685.5,283.6 685.7,282.4 685.9,281.2 686.0,280.0 686.2,278.8 686.3,277.6 686.5,276.5 686.7,275.3 686.8,274.1 687.0,272.9 687.1,271.7 687.3,270.5 687.5,269.3 687.6,268.1 687.8,266.9 688.0,265.7 688.2,264.5 688.3,263.3 688.5,262.1 688.7,260.9 688.8,259.8 689.0,258.6 689.2,257.4 689.4,256.2 689.6,255.0 689.7,253.8 689.9,252.6 690.1,251.4 690.3,250.2 690.5,249.0 690.7,247.9 690.9,246.7 691.0,245.5 691.2,244.3 691.4,243.1 691.6,241.9 691.8,240.7 692.0,239.5 692.2,238.4 692.4,237.2 692.6,236.0 692.8,234.8 693.0,233.6 693.2,232.4 693.4,231.3 693.7,230.1 693.9,228.9 694.1,227.7 694.3,226.5 694.5,225.3 694.7,224.2 694.9,223.0 695.2,221.8 695.4,220.6 695.6,219.4 695.8,218.3 696.1,217.1 696.3,215.9 696.5,214.7 696.8,213.5 697.0,212.4 697.2,211.2 697.5,210.0 697.7,208.8 698.0,207.7 698.2,206.5 698.5,205.3 698.7,204.1 699.0,203.0 699.2,201.8 699.5,200.6 699.7,199.5 700.0,198.3 700.3,197.1 700.5,196.0 700.8,194.8 701.1,193.6 701.3,192.5 701.6,191.3 701.9,190.1 702.2,189.0 702.5,187.8 702.7,186.6 703.0,185.5 703.3,184.3 703.6,183.1 703.9,182.0 704.2,180.8 704.5,179.7 704.8,178.5 705.1,177.3 705.4,176.2 705.7,175.0 706.0,173.9 706.3,172.7 706.7,171.6 707.0,170.4 707.3,169.2 707.6,168.1 707.9,166.9 708.3,165.8 708.6,164.6 708.9,163.5 709.3,162.3 709.6,161.2 710.0,160.0 710.3,158.9 710.7,157.8 711.0,156.6 711.4,155.5 711.7,154.3 712.1,153.2 712.4,152.0 712.8,150.9 713.2,149.8 713.5,148.6 713.9,147.5 714.3,146.3 714.7,145.2 715.1,144.1 715.4,142.9 715.8,141.8 720.2,145.5 724.3,150.0 724.2,148.7 724.0,147.5 723.9,146.2 723.8,145.0 723.7,143.8 723.6,142.6 723.6,141.4 723.5,140.2 723.5,139.0 723.5,137.8 723.4,136.6 723.4,135.4 723.4,134.2 723.4,133.0 723.3,131.8 723.3,130.6 723.3,129.4 723.2,128.2 723.2,127.0 723.1,125.8 723.1,124.5 723.0,123.3 722.9,122.0 722.8,120.7 722.8,119.4 722.7,118.2 722.7,116.9 722.8,115.6 722.9,114.4 723.1,113.1 723.4,112.0 723.8,111.1 724.3,110.9 724.9,111.4 725.5,112.3 726.1,113.5 726.7,114.8 727.3,116.0 727.9,117.2 728.5,118.3 729.0,119.4 729.5,120.5 730.0,121.6 730.5,122.7 730.9,123.9 731.3,125.0 731.8,126.1 732.1,127.3 732.5,128.4 732.9,129.6 733.2,130.8 733.5,131.9 733.8,133.1 734.1,134.3 734.4,135.5 734.7,136.7 735.0,137.8 735.3,139.0 735.5,140.2 735.8,141.4 736.1,142.6 736.3,143.8 736.6,145.0 736.8,146.2 737.1,147.4 737.4,148.5 737.8,149.7 738.1,150.9 738.5,152.0 738.9,153.2 739.4,154.3 739.9,155.4 740.5,156.5 740.4,157.7 740.3,159.0 740.2,160.2 740.2,161.4 740.1,162.6 740.0,163.9 739.9,165.1 739.8,166.3 739.7,167.6 739.7,168.8 739.6,170.0 739.5,171.3 739.4,172.5 739.4,173.7 739.3,175.0 739.2,176.2 739.2,177.4 739.1,178.7 739.1,179.9 739.0,181.1 739.0,182.3 738.9,183.6 738.9,184.8 738.9,186.0 738.9,187.3 738.9,188.5 738.9,189.7 738.9,191.0 738.9,192.2 738.9,193.4 738.9,194.6 739.0,195.9 739.0,197.1 739.0,198.3 739.1,199.5 739.2,200.8 739.3,202.0 739.3,203.2 739.4,204.4 739.5,205.7 739.7,206.9 739.8,208.1 739.9,209.3 740.1,210.5 740.3,211.7 740.4,213.0 740.6,214.2 740.8,215.4 741.0,216.6 741.3,217.8 741.5,219.0 741.8,220.2 742.0,221.4 742.3,222.6 742.6,223.8 742.9,225.0 743.2,226.2 743.6,227.4 743.9,228.6 744.3,229.8 744.7,231.0 744.9,232.2 745.1,233.4 745.2,234.6 745.4,235.8 745.6,237.0 745.7,238.1 745.9,239.3 746.1,240.5 746.3,241.7 746.4,242.9 746.6,244.1 746.8,245.3 747.0,246.5 747.1,247.7 747.3,248.9 747.5,250.1 747.6,251.3 747.8,252.4 748.0,253.6 748.2,254.8 748.3,256.0 748.5,257.2 748.7,258.4 748.9,259.6 749.0,260.8 749.2,262.0 749.4,263.2 749.5,264.4 749.7,265.5 749.9,266.7 750.1,267.9 750.2,269.1 750.4,270.3 750.6,271.5 750.8,272.7 750.9,273.9 751.1,275.1 751.3,276.3 751.4,277.5 751.6,278.6 751.8,279.8 752.0,281.0 752.1,282.2 752.3,283.4 752.5,284.6 752.6,285.8 752.8,287.0 753.0,288.2 753.2,289.4 753.3,290.6 753.5,291.7 753.7,292.9 753.8,294.1 754.0,295.3 754.2,296.5 754.4,297.7 754.5,298.9 754.7,300.1 754.9,301.3 755.0,302.5 755.2,303.6 755.4,304.8 755.6,306.0 755.7,307.2 755.9,308.4 756.1,309.6 756.2,310.8 756.4,312.0 756.6,313.2 756.8,314.4 756.9,315.5 757.1,316.7 757.3,317.9 757.4,319.1 757.6,320.3 757.8,321.5 758.0,322.7 758.1,323.9 758.3,325.1 758.5,326.3 758.6,327.4 758.8,328.6 759.0,329.8 759.1,331.0 759.3,332.2 759.5,333.4 759.7,334.6 759.8,335.8 760.0,337.0 760.2,338.2 760.3,339.4 760.5,340.5 760.7,341.7 760.9,342.9 761.0,344.1 761.2,345.3 761.4,346.5 761.5,347.7 761.7,348.9 761.9,350.1 762.1,351.3 762.2,352.4 762.4,353.6 762.6,354.8 762.7,356.0 762.9,357.2 763.1,358.4 763.2,359.6 763.4,360.8 763.6,362.0 763.8,363.2 763.9,364.3 764.1,365.5 764.3,366.7 764.4,367.9 764.6,369.1 764.8,370.3 765.0,371.5 765.1,372.7 765.3,373.9 765.5,375.1 765.6,376.2 765.8,377.4 766.0,378.6 766.1,379.8 766.3,381.0 766.5,382.2 766.7,383.4 766.8,384.6 767.0,385.8 767.2,387.0 767.3,388.1 767.5,389.3 767.7,390.5 767.9,391.7 768.0,392.9 768.2,394.1 768.4,395.3 768.5,396.5 768.7,397.7 768.9,398.9 769.0,400.0 769.2,401.2 769.4,402.4 769.6,403.6 769.7,404.8 769.9,406.0 770.1,407.2 770.2,408.4 770.4,409.6 770.6,410.8 770.8,411.9 770.9,413.1 771.1,414.3 771.3,415.5 771.4,416.7 771.6,417.9 771.8,419.1 772.0,420.3 772.1,421.5 772.3,422.7 772.5,423.8 772.6,425.0 772.8,426.2 773.0,427.4 773.1,428.6 773.3,429.8 773.5,431.0 773.7,432.2 773.8,433.4 774.0,434.6 774.2,435.8 774.3,436.9 774.5,438.1 774.7,439.3 774.9,440.5 775.0,441.7 775.2,442.9 775.4,444.1 775.5,445.3 775.7,446.5 775.9,447.7 776.1,448.9 776.2,450.0 776.4,451.2 776.6,452.4 776.7,453.6 776.9,454.8 777.1,456.0 777.3,457.2 777.4,458.4 777.6,459.6 777.8,460.8 777.9,462.0 778.1,463.1 778.3,464.3 778.5,465.5 778.6,466.7 778.8,467.9 779.0,469.1 779.1,470.3 779.3,471.5 779.5,472.7 779.7,473.9 779.8,475.1 780.0,476.3 780.2,477.4 780.4,478.6 780.5,479.8 780.7,481.0 780.9,482.2 781.0,483.4 781.2,484.6 781.4,485.8 781.6,487.0 781.7,488.2 781.9,489.4 782.1,490.6 782.2,491.8 782.4,492.9 782.6,494.1 782.8,495.3 782.9,496.5 783.1,497.7 783.3,498.9 783.5,500.1 783.6,501.3 783.8,502.5 784.0,503.7 784.1,504.9 784.3,506.1 784.5,507.3 784.7,508.4 784.8,509.6 785.0,510.8 785.2,512.0 785.4,513.2 785.5,514.4 785.7,515.6 785.9,516.8 786.1,518.0 786.2,519.2 786.4,520.4 786.6,521.6 786.7,522.8 786.9,523.9 787.1,525.1 787.3,526.3 787.4,527.5 787.6,528.7 787.8,529.9 788.0,531.1 788.1,532.3 788.3,533.5 788.5,534.7 788.7,535.9 788.8,537.1 789.0,538.3 789.2,539.4 789.4,540.6 789.5,541.8 789.7,543.0 789.9,544.2 790.1,545.4 790.3,546.6 790.4,547.8 790.6,549.0 790.8,550.2 791.0,551.3 791.1,552.5 791.3,553.7 791.5,554.9 791.7,556.1 791.9,557.3 792.0,558.5 792.2,559.7 792.4,560.9 792.6,562.0 792.8,563.2 792.9,564.4 793.1,565.6 793.3,566.8 793.5,568.0 793.7,569.2 793.8,570.4 794.0,571.5 794.2,572.7 794.4,573.9 794.6,575.1 794.8,576.3 795.0,577.5 795.1,578.6 795.3,579.8 795.5,581.0 795.7,582.2 795.9,583.4 796.1,584.5 796.3,585.7 796.6,586.9 796.8,588.1 797.0,589.2 797.3,590.4 797.5,591.6 797.8,592.7 798.1,593.9 798.3,595.1 798.6,596.2 798.9,597.4 799.3,598.5 799.6,599.7 800.0,600.8 800.3,602.0 800.7,603.1 801.1,604.3 801.5,605.4 802.0,606.5 802.5,607.7 802.9,608.8 803.4,609.9 804.0,611.0 804.5,612.1 805.1,613.2 805.7,614.3 806.4,615.3 807.1,616.3 807.9,617.2 808.7,618.1 809.6,618.9 810.5,619.6 811.5,620.2 812.6,620.4 813.6,620.2 814.7,619.7 815.7,618.9 816.6,618.1 817.5,617.3 818.3,616.4 819.1,615.5 819.8,614.6 820.5,613.6 821.1,612.6 821.7,611.5 822.2,610.5 822.8,609.4 823.2,608.3 823.7,607.2 824.2,606.1 824.6,604.9 825.0,603.8 825.4,602.6 825.8,601.5 826.2,600.3 826.6,599.2 827.0,598.0 827.3,596.9 827.7,595.7 828.1,594.6 828.4,593.4 828.8,592.3 829.1,591.1 829.4,589.9 829.8,588.8 830.1,587.6 830.4,586.5 830.7,585.3 831.0,584.1 831.3,583.0 831.6,581.8 831.9,580.6 832.2,579.5 832.5,578.3 832.7,577.1 833.0,575.9 833.3,574.8 833.5,573.6 833.8,572.4 834.0,571.2 834.3,570.1 834.5,568.9 834.8,567.7 835.0,566.5 835.2,565.4 835.4,564.2 835.7,563.0 835.9,561.8 836.1,560.6 836.3,559.5 836.5,558.3 836.7,557.1 836.9,555.9 837.1,554.7 837.3,553.5 837.5,552.3 837.7,551.2 837.9,550.0 838.1,548.8 838.3,547.6 838.4,546.4 838.6,545.2 838.8,544.0 839.0,542.8 839.1,541.7 839.3,540.5 839.5,539.3 839.6,538.1 839.8,536.9 840.0,535.7 840.1,534.5 840.3,533.3 840.4,532.1 840.6,530.9 840.7,529.8 840.9,528.6 841.1,527.4 841.2,526.2 841.4,525.0 841.5,523.8 841.7,522.6 841.8,521.4 842.0,520.2 842.1,519.0 842.3,517.8 842.4,516.6 842.6,515.5 842.7,514.3 842.9,513.1 843.0,511.9 843.1,510.7 843.3,509.5 843.4,508.3 843.6,507.1 843.7,505.9 843.9,504.7 844.0,503.5 844.2,502.3 844.3,501.1 844.4,499.9 844.6,498.8 844.7,497.6 844.9,496.4 845.0,495.2 845.1,494.0 845.3,492.8 845.4,491.6 845.5,490.4 845.7,489.2 845.8,488.0 846.0,486.8 846.1,485.6 846.2,484.4 846.4,483.2 846.5,482.0 846.6,480.8 846.8,479.7 846.9,478.5 847.0,477.3 847.2,476.1 847.3,474.9 847.4,473.7 847.6,472.5 847.7,471.3 847.8,470.1 848.0,468.9 848.1,467.7 848.2,466.5 848.4,465.3 848.5,464.1 848.6,462.9 848.7,461.7 848.9,460.5 849.0,459.4 849.1,458.2 849.3,457.0 849.4,455.8 849.5,454.6 849.6,453.4 849.8,452.2 849.9,451.0 850.0,449.8 850.1,448.6 850.3,447.4 850.4,446.2 850.5,445.0 850.6,443.8 850.8,442.6 850.9,441.4 851.0,440.2 851.2,439.0 851.3,437.8 851.4,436.6 851.5,435.5 851.7,434.3 851.8,433.1 851.9,431.9 852.0,430.7 852.1,429.5 852.3,428.3 852.4,427.1 852.5,425.9 852.6,424.7 852.8,423.5 852.9,422.3 853.0,421.1 853.1,419.9 853.3,418.7 853.4,417.5 853.5,416.3 853.6,415.1 853.8,413.9 853.9,412.7 854.0,411.5 854.1,410.4 854.2,409.2 854.4,408.0 854.5,406.8 854.6,405.6 854.7,404.4 854.9,403.2 855.0,402.0 855.1,400.8 855.2,399.6 855.4,398.4 855.5,397.2 855.6,396.0 855.7,394.8 855.8,393.6 856.0,392.4 856.1,391.2 856.2,390.0 856.3,388.8 856.5,387.6 856.6,386.4 856.7,385.2 856.8,384.0 857.0,382.8 857.1,381.7 857.2,380.5 857.3,379.3 857.5,378.1 857.6,376.9 857.7,375.7 857.8,374.5 858.0,373.3 858.1,372.1 858.2,370.9 858.3,369.7 858.5,368.5 858.6,367.3 858.7,366.1 858.8,364.9 859.0,363.7 859.1,362.5 859.2,361.3 859.4,360.1 859.5,358.9 859.6,357.7 859.7,356.5 859.9,355.3 860.0,354.1 860.1,353.0 860.3,351.8 860.4,350.6 860.5,349.4 860.6,348.2 860.8,347.0 860.9,345.8 861.0,344.6 861.2,343.4 861.3,342.2 861.4,341.0 861.6,339.8 861.7,338.6 861.8,337.4 862.0,336.2 862.1,335.0 862.2,333.8 862.4,332.6 862.5,331.4 862.6,330.2 862.8,329.0 862.9,327.8 863.1,326.6 863.2,325.4 863.3,324.3 863.5,323.1 863.6,321.9 863.7,320.7 863.9,319.5 864.0,318.3 864.2,317.1 864.3,315.9 864.4,314.7 864.6,313.5 864.7,312.3 864.9,311.1 865.0,309.9 865.2,308.7 865.3,307.5 865.5,306.3 865.6,305.1 865.7,303.9 865.9,302.7 866.0,301.5 866.2,300.3 866.3,299.2 866.5,298.0 866.6,296.8 866.8,295.6 866.9,294.4 867.1,293.2 867.2,292.0 867.4,290.8 867.5,289.6 867.7,288.4 867.8,287.2 868.0,286.0 868.2,284.8 868.3,283.6 868.5,282.4 868.6,281.2 868.8,280.0 868.9,278.8 869.1,277.6 869.3,276.5 869.4,275.3 869.6,274.1 869.7,272.9 869.9,271.7 870.1,270.5 870.2,269.3 870.4,268.1 870.6,266.9 870.8,265.7 870.9,264.5 871.1,263.3 871.3,262.1 871.4,260.9 871.6,259.8 871.8,258.6 872.0,257.4 872.1,256.2 872.3,255.0 872.5,253.8 872.7,252.6 872.9,251.4 873.1,250.2 873.2,249.0 873.4,247.9 873.6,246.7 873.8,245.5 874.0,244.3 874.2,243.1 874.4,241.9 874.6,240.7 874.8,239.5 875.0,238.4 875.2,237.2 875.4,236.0 875.6,234.8 875.8,233.6 876.0,232.4 876.2,231.3 876.4,230.1 876.6,228.9 876.8,227.7" stroke="#2299c2" stroke-width="5.2"/>
<path d="M95.1,396.9 96.0,397.6 96.9,398.2 97.7,398.6 98.6,398.9 99.5,398.9 100.4,398.8 101.3,398.5 102.2,398.0 103.1,397.3 103.9,396.5 104.8,395.7 105.6,394.7 106.4,393.7 107.2,392.6 107.9,391.5 108.6,390.4 109.3,389.3 109.9,388.2 110.5,387.1 111.1,386.0 111.7,384.9 112.2,383.8 112.8,382.7 113.3,381.6 113.8,380.4 114.3,379.3 114.8,378.2 115.2,377.0 115.7,375.9 116.2,374.7 116.7,373.6 117.1,372.4 117.6,371.3 118.1,370.1 118.6,369.0 119.1,367.8 119.6,366.6 120.2,365.5 120.8,364.4 121.4,363.4 122.0,362.3 122.7,361.4 123.5,360.5 124.3,359.7 125.2,359.0 126.1,358.4 127.1,357.8 128.2,357.4 129.4,357.2 130.6,357.0 132.0,357.0 134.4,354.0 134.5,352.7 134.5,351.5 134.6,350.2 134.6,349.0 134.7,347.7 134.7,346.4 134.8,345.2 134.8,343.9 134.9,342.6 135.0,341.4 135.0,340.1 135.1,338.9 135.2,337.6 135.2,336.3 135.3,335.1 135.4,333.8 135.5,332.6 135.6,331.3 135.7,330.0 135.8,328.8 135.9,327.5 136.0,326.3 136.2,325.0 136.3,323.8 136.5,322.5 136.6,321.3 136.8,320.0 137.3,321.3 137.7,322.6 138.2,323.9 138.8,325.2 139.3,326.5 139.9,327.8 140.4,329.0 141.0,330.3 141.5,331.6 142.0,332.9 142.5,334.2 143.0,335.5 143.0,352.0 143.0,370.0 144.1,373.5 145.0,374.3 145.9,375.1 146.6,376.0 147.3,377.0 148.0,378.0 148.5,379.0 149.0,380.1 149.5,381.3 150.0,382.4 150.4,383.6 150.9,384.8 151.3,386.0 151.8,387.2 152.3,388.4 152.8,389.6 153.4,390.8 154.0,391.9 154.7,393.1 155.4,394.2 156.2,395.2 157.0,396.1 157.8,396.9 158.7,397.6 159.6,398.2 160.4,398.6 161.3,398.9 162.2,398.9 163.1,398.8 164.0,398.5 164.9,398.0 165.8,397.3 166.6,396.5 167.5,395.7 168.3,394.7 169.1,393.7 169.9,392.6 170.6,391.5 171.3,390.4 172.0,389.3 172.6,388.2 173.2,387.1 173.8,386.0 174.4,384.9 174.9,383.8 175.5,382.7 176.0,381.6 176.5,380.4 177.0,379.3 177.5,378.2 177.9,377.0 178.4,375.9 178.9,374.7 179.4,373.6 179.8,372.4 180.3,371.3 180.8,370.1 181.3,369.0 181.8,367.8 182.3,366.6 182.9,365.5 183.5,364.4 184.1,363.4 184.7,362.3 185.4,361.4 186.2,360.5 187.0,359.7 187.9,359.0 188.8,358.4 189.8,357.8 190.9,357.4 192.1,357.2 193.3,357.0 194.7,357.0 197.1,354.0 197.2,352.7 197.2,351.5 197.3,350.2 197.3,349.0 197.4,347.7 197.4,346.4 197.5,345.2 197.5,343.9 197.6,342.6 197.7,341.4 197.7,340.1 197.8,338.9 197.9,337.6 197.9,336.3 198.0,335.1 198.1,333.8 198.2,332.6 198.3,331.3 198.4,330.0 198.5,328.8 198.6,327.5 198.7,326.3 198.9,325.0 199.0,323.8 199.2,322.5 199.3,321.3 199.5,320.0 200.0,321.3 200.4,322.6 200.9,323.9 201.5,325.2 202.0,326.5 202.6,327.8 203.1,329.0 203.7,330.3 204.2,331.6 204.7,332.9 205.2,334.2 205.7,335.5 205.7,352.0 205.7,370.0 206.8,373.5 207.7,374.3 208.6,375.1 209.3,376.0 210.0,377.0 210.7,378.0 211.2,379.0 211.7,380.1 212.2,381.3 212.7,382.4 213.1,383.6 213.6,384.8 214.0,386.0 214.5,387.2 215.0,388.4 215.5,389.6 216.1,390.8 216.7,391.9 217.4,393.1 218.1,394.2 218.9,395.2 219.7,396.1 220.5,396.9 221.4,397.6 222.3,398.2 223.1,398.6 224.0,398.9 224.9,398.9 225.8,398.8 226.7,398.5 227.6,398.0 228.5,397.3 229.3,396.5 230.2,395.7 231.0,394.7 231.8,393.7 232.6,392.6 233.3,391.5 234.0,390.4 234.7,389.3 235.3,388.2 235.9,387.1 236.5,386.0 237.1,384.9 237.6,383.8 238.2,382.7 238.7,381.6 239.2,380.4 239.7,379.3 240.2,378.2 240.6,377.0 241.1,375.9 241.6,374.7 242.1,373.6 242.5,372.4 243.0,371.3 243.5,370.1 244.0,369.0 244.5,367.8 245.0,366.6 245.6,365.5 246.2,364.4 246.8,363.4 247.4,362.3 248.1,361.4 248.9,360.5 249.7,359.7 250.6,359.0 251.5,358.4 252.5,357.8 253.6,357.4 254.8,357.2 256.0,357.0 257.4,357.0 259.8,354.0 259.9,352.7 259.9,351.5 260.0,350.2 260.0,349.0 260.1,347.7 260.1,346.4 260.2,345.2 260.2,343.9 260.3,342.6 260.4,341.4 260.4,340.1 260.5,338.9 260.6,337.6 260.6,336.3 260.7,335.1 260.8,333.8 260.9,332.6 261.0,331.3 261.1,330.0 261.2,328.8 261.3,327.5 261.4,326.3 261.6,325.0 261.7,323.8 261.9,322.5 262.0,321.3 262.2,320.0 262.7,321.3 263.1,322.6 263.6,323.9 264.2,325.2 264.7,326.5 265.3,327.8 265.8,329.0 266.4,330.3 266.9,331.6 267.4,332.9 267.9,334.2 268.4,335.5 268.4,352.0 268.4,370.0 269.5,373.5 270.4,374.3 271.3,375.1 272.0,376.0 272.7,377.0 273.4,378.0 273.9,379.0 274.4,380.1 274.9,381.3 275.4,382.4 275.8,383.6 276.3,384.8 276.7,386.0 277.2,387.2 277.7,388.4 278.2,389.6 278.8,390.8 279.4,391.9 280.1,393.1 280.8,394.2 281.6,395.2 282.4,396.1 283.2,396.9 284.1,397.6 285.0,398.2 285.8,398.6 286.7,398.9 287.6,398.9 288.5,398.8 289.4,398.5 290.3,398.0 291.2,397.3 292.0,396.5 292.9,395.7 293.7,394.7 294.5,393.7 295.3,392.6 296.0,391.5 296.7,390.4 297.4,389.3 298.0,388.2 298.6,387.1 299.2,386.0 299.8,384.9 300.3,383.8 300.9,382.7 301.4,381.6 301.9,380.4 302.4,379.3 302.9,378.2 303.3,377.0 303.8,375.9 304.3,374.7 304.8,373.6 305.2,372.4 305.7,371.3 306.2,370.1 306.7,369.0 307.2,367.8 307.7,366.6 308.3,365.5 308.9,364.4 309.5,363.4 310.1,362.3 310.8,361.4 311.6,360.5 312.4,359.7 313.3,359.0 314.2,358.4 315.2,357.8 316.3,357.4 317.5,357.2 318.7,357.0 320.1,357.0 322.5,354.0 322.6,352.7 322.6,351.5 322.7,350.2 322.7,349.0 322.8,347.7 322.8,346.4 322.9,345.2 322.9,343.9 323.0,342.6 323.1,341.4 323.1,340.1 323.2,338.9 323.3,337.6 323.3,336.3 323.4,335.1 323.5,333.8 323.6,332.6 323.7,331.3 323.8,330.0 323.9,328.8 324.0,327.5 324.1,326.3 324.3,325.0 324.4,323.8 324.6,322.5 324.7,321.3 324.9,320.0 325.4,321.3 325.8,322.6 326.3,323.9 326.9,325.2 327.4,326.5 328.0,327.8 328.5,329.0 329.1,330.3 329.6,331.6 330.1,332.9 330.6,334.2 331.1,335.5 331.1,352.0 331.1,370.0 332.2,373.5 333.1,374.3 334.0,375.1 334.7,376.0 335.4,377.0 336.1,378.0 336.6,379.0 337.1,380.1 337.6,381.3 338.1,382.4 338.5,383.6 339.0,384.8 339.4,386.0 339.9,387.2 340.4,388.4 340.9,389.6 341.5,390.8 342.1,391.9 342.8,393.1 343.5,394.2 344.3,395.2 345.1,396.1 345.9,396.9 346.8,397.6 347.7,398.2 348.5,398.6 349.4,398.9 350.3,398.9 351.2,398.8 352.1,398.5 353.0,398.0 353.9,397.3 354.7,396.5 355.6,395.7 356.4,394.7 357.2,393.7 358.0,392.6 358.7,391.5 359.4,390.4 360.1,389.3 360.7,388.2 361.3,387.1 361.9,386.0 362.5,384.9 363.0,383.8 363.6,382.7 364.1,381.6 364.6,380.4 365.1,379.3 365.6,378.2 366.0,377.0 366.5,375.9 367.0,374.7 367.5,373.6 367.9,372.4 368.4,371.3 368.9,370.1 369.4,369.0 369.9,367.8 370.4,366.6 371.0,365.5 371.6,364.4 372.2,363.4 372.8,362.3 373.5,361.4 374.3,360.5 375.1,359.7 376.0,359.0 376.9,358.4 377.9,357.8 379.0,357.4 380.2,357.2 381.4,357.0 382.8,357.0 385.2,354.0 385.3,352.7 385.3,351.5 385.4,350.2 385.4,349.0 385.5,347.7 385.5,346.4 385.6,345.2 385.6,343.9 385.7,342.6 385.8,341.4 385.8,340.1 385.9,338.9 386.0,337.6 386.0,336.3 386.1,335.1 386.2,333.8 386.3,332.6 386.4,331.3 386.5,330.0 386.6,328.8 386.7,327.5 386.8,326.3 387.0,325.0 387.1,323.8 387.3,322.5 387.4,321.3 387.6,320.0 388.1,321.3 388.5,322.6 389.0,323.9 389.6,325.2 390.1,326.5 390.7,327.8 391.2,329.0 391.8,330.3 392.3,331.6 392.8,332.9 393.3,334.2 393.8,335.5 393.8,352.0 393.8,370.0 394.9,373.5 395.8,374.3 396.7,375.1 397.4,376.0 398.1,377.0 398.8,378.0 399.3,379.0 399.8,380.1 400.3,381.3 400.8,382.4 401.2,383.6 401.7,384.8 402.1,386.0 402.6,387.2 403.1,388.4 403.6,389.6 404.2,390.8 404.8,391.9 405.5,393.1 406.2,394.2 407.0,395.2 407.8,396.1 408.6,396.9 409.5,397.6 410.4,398.2 411.2,398.6 412.1,398.9 413.0,398.9 413.9,398.8 414.8,398.5 415.7,398.0 416.6,397.3 417.4,396.5 418.3,395.7 419.1,394.7 419.9,393.7 420.7,392.6 421.4,391.5 422.1,390.4 422.8,389.3 423.4,388.2 424.0,387.1 424.6,386.0 425.2,384.9 425.7,383.8 426.3,382.7 426.8,381.6 427.3,380.4 427.8,379.3 428.3,378.2 428.7,377.0 429.2,375.9 429.7,374.7 430.2,373.6 430.6,372.4 431.1,371.3 431.6,370.1 432.1,369.0 432.6,367.8 433.1,366.6 433.7,365.5 434.3,364.4 434.9,363.4 435.5,362.3 436.2,361.4 437.0,360.5 437.8,359.7 438.7,359.0 439.6,358.4 440.6,357.8 441.7,357.4 442.9,357.2 444.1,357.0 445.5,357.0 447.9,354.0 448.0,352.7 448.0,351.5 448.1,350.2 448.1,349.0 448.2,347.7 448.2,346.4 448.3,345.2 448.3,343.9 448.4,342.6 448.5,341.4 448.5,340.1 448.6,338.9 448.7,337.6 448.7,336.3 448.8,335.1 448.9,333.8 449.0,332.6 449.1,331.3 449.2,330.0 449.3,328.8 449.4,327.5 449.5,326.3 449.7,325.0 449.8,323.8 450.0,322.5 450.1,321.3 450.3,320.0 450.8,321.3 451.2,322.6 451.7,323.9 452.3,325.2 452.8,326.5 453.4,327.8 453.9,329.0 454.5,330.3 455.0,331.6 455.5,332.9 456.0,334.2 456.5,335.5 456.5,352.0 456.5,370.0 457.6,373.5 458.5,374.3 459.4,375.1 460.1,376.0 460.8,377.0 461.5,378.0 462.0,379.0 462.5,380.1 463.0,381.3 463.5,382.4 463.9,383.6 464.4,384.8 464.8,386.0 465.3,387.2 465.8,388.4 466.3,389.6 466.9,390.8 467.5,391.9 468.2,393.1 468.9,394.2 469.7,395.2 470.5,396.1 471.3,396.9 472.2,397.6 473.1,398.2 473.9,398.6 474.8,398.9 475.7,398.9 476.6,398.8 477.5,398.5 478.4,398.0 479.3,397.3 480.1,396.5 481.0,395.7 481.8,394.7 482.6,393.7 483.4,392.6 484.1,391.5 484.8,390.4 485.5,389.3 486.1,388.2 486.7,387.1 487.3,386.0 487.9,384.9 488.4,383.8 489.0,382.7 489.5,381.6 490.0,380.4 490.5,379.3 491.0,378.2 491.4,377.0 491.9,375.9 492.4,374.7 492.9,373.6 493.3,372.4 493.8,371.3 494.3,370.1 494.8,369.0 495.3,367.8 495.8,366.6 496.4,365.5 497.0,364.4 497.6,363.4 498.2,362.3 498.9,361.4 499.7,360.5 500.5,359.7 501.4,359.0 502.3,358.4 503.3,357.8 504.4,357.4 505.6,357.2 506.8,357.0 508.2,357.0 510.6,354.0 510.7,352.7 510.7,351.5 510.8,350.2 510.8,349.0 510.9,347.7 510.9,346.4 511.0,345.2 511.0,343.9 511.1,342.6 511.2,341.4 511.2,340.1 511.3,338.9 511.4,337.6 511.4,336.3 511.5,335.1 511.6,333.8 511.7,332.6 511.8,331.3 511.9,330.0 512.0,328.8 512.1,327.5 512.2,326.3 512.4,325.0 512.5,323.8 512.7,322.5 512.8,321.3 513.0,320.0 513.5,321.3 513.9,322.6 514.4,323.9 515.0,325.2 515.5,326.5 516.1,327.8 516.6,329.0 517.2,330.3 517.7,331.6 518.2,332.9 518.7,334.2 519.2,335.5 519.2,352.0 519.2,370.0 520.3,373.5 521.2,374.3 522.1,375.1 522.8,376.0 523.5,377.0 524.2,378.0 524.7,379.0 525.2,380.1 525.7,381.3 526.2,382.4 526.6,383.6 527.1,384.8 527.5,386.0 528.0,387.2 528.5,388.4 529.0,389.6 529.6,390.8 530.2,391.9 530.9,393.1 531.6,394.2 532.4,395.2 533.2,396.1 534.0,396.9 534.9,397.6 535.8,398.2 536.6,398.6 537.5,398.9 538.4,398.9 539.3,398.8 540.2,398.5 541.1,398.0 542.0,397.3 542.8,396.5 543.7,395.7 544.5,394.7 545.3,393.7 546.1,392.6 546.8,391.5 547.5,390.4 548.2,389.3 548.8,388.2 549.4,387.1 550.0,386.0 550.6,384.9 551.1,383.8 551.7,382.7 552.2,381.6 552.7,380.4 553.2,379.3 553.7,378.2 554.1,377.0 554.6,375.9 555.1,374.7 555.6,373.6 556.0,372.4 556.5,371.3 557.0,370.1 557.5,369.0 558.0,367.8 558.5,366.6 559.1,365.5 559.7,364.4 560.3,363.4 560.9,362.3 561.6,361.4 562.4,360.5 563.2,359.7 564.1,359.0 565.0,358.4 566.0,357.8 567.1,357.4 568.3,357.2 569.5,357.0 570.9,357.0 573.3,354.0 573.4,352.7 573.4,351.5 573.5,350.2 573.5,349.0 573.6,347.7 573.6,346.4 573.7,345.2 573.7,343.9 573.8,342.6 573.9,341.4 573.9,340.1 574.0,338.9 574.1,337.6 574.1,336.3 574.2,335.1 574.3,333.8 574.4,332.6 574.5,331.3 574.6,330.0 574.7,328.8 574.8,327.5 574.9,326.3 575.1,325.0 575.2,323.8 575.4,322.5 575.5,321.3 575.7,320.0 576.2,321.3 576.6,322.6 577.1,323.9 577.7,325.2 578.2,326.5 578.8,327.8 579.3,329.0 579.9,330.3 580.4,331.6 580.9,332.9 581.4,334.2 581.9,335.5 581.9,352.0 581.9,370.0 583.0,373.5 583.9,374.3 584.8,375.1 585.5,376.0 586.2,377.0 586.9,378.0 587.4,379.0 587.9,380.1 588.4,381.3 588.9,382.4 589.3,383.6 589.8,384.8 590.2,386.0 590.7,387.2 591.2,388.4 591.7,389.6 592.3,390.8 592.9,391.9 593.6,393.1 594.3,394.2 595.1,395.2 595.9,396.1 596.7,396.9 597.6,397.6 598.5,398.2 599.3,398.6 600.2,398.9 601.1,398.9 602.0,398.8 602.9,398.5 603.8,398.0 604.7,397.3 605.5,396.5 606.4,395.7 607.2,394.7 608.0,393.7 608.8,392.6 609.5,391.5 610.2,390.4 610.9,389.3 611.5,388.2 612.1,387.1 612.7,386.0 613.3,384.9 613.8,383.8 614.4,382.7 614.9,381.6 615.4,380.4 615.9,379.3 616.4,378.2 616.8,377.0 617.3,375.9 617.8,374.7 618.3,373.6 618.7,372.4 619.2,371.3 619.7,370.1 620.2,369.0 620.7,367.8 621.2,366.6 621.8,365.5 622.4,364.4 623.0,363.4 623.6,362.3 624.3,361.4 625.1,360.5 625.9,359.7 626.8,359.0 627.7,358.4 628.7,357.8 629.8,357.4 631.0,357.2 632.2,357.0 633.6,357.0 636.0,354.0 636.1,352.7 636.1,351.5 636.2,350.2 636.2,349.0 636.3,347.7 636.3,346.4 636.4,345.2 636.4,343.9 636.5,342.6 636.6,341.4 636.6,340.1 636.7,338.9 636.8,337.6 636.8,336.3 636.9,335.1 637.0,333.8 637.1,332.6 637.2,331.3 637.3,330.0 637.4,328.8 637.5,327.5 637.6,326.3 637.8,325.0 637.9,323.8 638.1,322.5 638.2,321.3 638.4,320.0 638.9,321.3 639.3,322.6 639.8,323.9 640.4,325.2 640.9,326.5 641.5,327.8 642.0,329.0 642.6,330.3 643.1,331.6 643.6,332.9 644.1,334.2 644.6,335.5 644.6,352.0 644.6,370.0 645.7,373.5 646.6,374.3 647.5,375.1 648.2,376.0 648.9,377.0 649.6,378.0 650.1,379.0 650.6,380.1 651.1,381.3 651.6,382.4 652.0,383.6 652.5,384.8 652.9,386.0 653.4,387.2 653.9,388.4 654.4,389.6 655.0,390.8 655.6,391.9 656.3,393.1 657.0,394.2 657.8,395.2 658.6,396.1 659.4,396.9 660.3,397.6 661.2,398.2 662.0,398.6 662.9,398.9 663.8,398.9 664.7,398.8 665.6,398.5 666.5,398.0 667.4,397.3 668.2,396.5 669.1,395.7 669.9,394.7 670.7,393.7 671.5,392.6 672.2,391.5 672.9,390.4 673.6,389.3 674.2,388.2 674.8,387.1 675.4,386.0 676.0,384.9 676.5,383.8 677.1,382.7 677.6,381.6 678.1,380.4 678.6,379.3 679.1,378.2 679.5,377.0 680.0,375.9 680.5,374.7 681.0,373.6 681.4,372.4 681.9,371.3 682.4,370.1 682.9,369.0 683.4,367.8 683.9,366.6 684.5,365.5 685.1,364.4 685.7,363.4 686.3,362.3 687.0,361.4 687.8,360.5 688.6,359.7 689.5,359.0 690.4,358.4 691.4,357.8 692.5,357.4 693.7,357.2 694.9,357.0 696.3,357.0 698.7,354.0 698.8,352.7 698.8,351.5 698.9,350.2 698.9,349.0 699.0,347.7 699.0,346.4 699.1,345.2 699.1,343.9 699.2,342.6 699.3,341.4 699.3,340.1 699.4,338.9 699.5,337.6 699.5,336.3 699.6,335.1 699.7,333.8 699.8,332.6 699.9,331.3 700.0,330.0 700.1,328.8 700.2,327.5 700.3,326.3 700.5,325.0 700.6,323.8 700.8,322.5 700.9,321.3 701.1,320.0 701.6,321.3 702.0,322.6 702.5,323.9 703.1,325.2 703.6,326.5 704.2,327.8 704.7,329.0 705.3,330.3 705.8,331.6 706.3,332.9 706.8,334.2 707.3,335.5 707.3,352.0 707.3,370.0 708.4,373.5 709.3,374.3 710.2,375.1 710.9,376.0 711.6,377.0 712.3,378.0 712.8,379.0 713.3,380.1 713.8,381.3 714.3,382.4 714.7,383.6 715.2,384.8 715.6,386.0 716.1,387.2 716.6,388.4 717.1,389.6 717.7,390.8 718.3,391.9 719.0,393.1 719.7,394.2 720.5,395.2 721.3,396.1 722.1,396.9 723.0,397.6 723.9,398.2 724.7,398.6 725.6,398.9 726.5,398.9 727.4,398.8 728.3,398.5 729.2,398.0 730.1,397.3 730.9,396.5 731.8,395.7 732.6,394.7 733.4,393.7 734.2,392.6 734.9,391.5 735.6,390.4 736.3,389.3 736.9,388.2 737.5,387.1 738.1,386.0 738.7,384.9 739.2,383.8 739.8,382.7 740.3,381.6 740.8,380.4 741.3,379.3 741.8,378.2 742.2,377.0 742.7,375.9 743.2,374.7 743.7,373.6 744.1,372.4 744.6,371.3 745.1,370.1 745.6,369.0 746.1,367.8 746.6,366.6 747.2,365.5 747.8,364.4 748.4,363.4 749.0,362.3 749.7,361.4 750.5,360.5 751.3,359.7 752.2,359.0 753.1,358.4 754.1,357.8 755.2,357.4 756.4,357.2 757.6,357.0 759.0,357.0 761.4,354.0 761.5,352.7 761.5,351.5 761.6,350.2 761.6,349.0 761.7,347.7 761.7,346.4 761.8,345.2 761.8,343.9 761.9,342.6 762.0,341.4 762.0,340.1 762.1,338.9 762.2,337.6 762.2,336.3 762.3,335.1 762.4,333.8 762.5,332.6 762.6,331.3 762.7,330.0 762.8,328.8 762.9,327.5 763.0,326.3 763.2,325.0 763.3,323.8 763.5,322.5 763.6,321.3 763.8,320.0 764.3,321.3 764.7,322.6 765.2,323.9 765.8,325.2 766.3,326.5 766.9,327.8 767.4,329.0 768.0,330.3 768.5,331.6 769.0,332.9 769.5,334.2 770.0,335.5 770.0,352.0 770.0,370.0 771.1,373.5 772.0,374.3 772.9,375.1 773.6,376.0 774.3,377.0 775.0,378.0 775.5,379.0 776.0,380.1 776.5,381.3 777.0,382.4 777.4,383.6 777.9,384.8 778.3,386.0 778.8,387.2 779.3,388.4 779.8,389.6 780.4,390.8 781.0,391.9 781.7,393.1 782.4,394.2 783.2,395.2 784.0,396.1 784.8,396.9 785.7,397.6 786.6,398.2 787.4,398.6 788.3,398.9 789.2,398.9 790.1,398.8 791.0,398.5 791.9,398.0 792.8,397.3 793.6,396.5 794.5,395.7 795.3,394.7 796.1,393.7 796.9,392.6 797.6,391.5 798.3,390.4 799.0,389.3 799.6,388.2 800.2,387.1 800.8,386.0 801.4,384.9 801.9,383.8 802.5,382.7 803.0,381.6 803.5,380.4 804.0,379.3 804.5,378.2 804.9,377.0 805.4,375.9 805.9,374.7 806.4,373.6 806.8,372.4 807.3,371.3 807.8,370.1 808.3,369.0 808.8,367.8 809.3,366.6 809.9,365.5 810.5,364.4 811.1,363.4 811.7,362.3 812.4,361.4 813.2,360.5 814.0,359.7 814.9,359.0 815.8,358.4 816.8,357.8 817.9,357.4 819.1,357.2 820.3,357.0 821.7,357.0 824.1,354.0 824.2,352.7 824.2,351.5 824.3,350.2 824.3,349.0 824.4,347.7 824.4,346.4 824.5,345.2 824.5,343.9 824.6,342.6 824.7,341.4 824.7,340.1 824.8,338.9 824.9,337.6 824.9,336.3 825.0,335.1 825.1,333.8 825.2,332.6 825.3,331.3 825.4,330.0 825.5,328.8 825.6,327.5 825.7,326.3 825.9,325.0 826.0,323.8 826.2,322.5 826.3,321.3 826.5,320.0 827.0,321.3 827.4,322.6 827.9,323.9 828.5,325.2 829.0,326.5 829.6,327.8 830.1,329.0 830.7,330.3 831.2,331.6 831.7,332.9 832.2,334.2 832.7,335.5 832.7,352.0 832.7,370.0 833.8,373.5 834.7,374.3 835.6,375.1 836.3,376.0 837.0,377.0 837.7,378.0 838.2,379.0 838.7,380.1 839.2,381.3 839.7,382.4 840.1,383.6 840.6,384.8 841.0,386.0 841.5,387.2 842.0,388.4 842.5,389.6 843.1,390.8 843.7,391.9 844.4,393.1 845.1,394.2 845.9,395.2 846.7,396.1 847.5,396.9 848.4,397.6 849.3,398.2 850.1,398.6 851.0,398.9 851.9,398.9 852.8,398.8 853.7,398.5 854.6,398.0 855.5,397.3 856.3,396.5 857.2,395.7 858.0,394.7 858.8,393.7 859.6,392.6 860.3,391.5 861.0,390.4 861.7,389.3 862.3,388.2 862.9,387.1 863.5,386.0 864.1,384.9 864.6,383.8 865.2,382.7 865.7,381.6 866.2,380.4 866.7,379.3 867.2,378.2 867.6,377.0 868.1,375.9 868.6,374.7 869.1,373.6 869.5,372.4 870.0,371.3 870.5,370.1 871.0,369.0 871.5,367.8 872.0,366.6 872.6,365.5 873.2,364.4 873.8,363.4 874.4,362.3 875.1,361.4 875.9,360.5 876.7,359.7 877.6,359.0 878.5,358.4 879.5,357.8 880.6,357.4 881.8,357.2 883.0,357.0 884.4,357.0 886.8,354.0 886.9,352.7 886.9,351.5 887.0,350.2 887.0,349.0 887.1,347.7 887.1,346.4 887.2,345.2 887.2,343.9 887.3,342.6 887.4,341.4 887.4,340.1 887.5,338.9 887.6,337.6 887.6,336.3 887.7,335.1 887.8,333.8 887.9,332.6 888.0,331.3 888.1,330.0 888.2,328.8 888.3,327.5 888.4,326.3 888.6,325.0 888.7,323.8 888.9,322.5 889.0,321.3 889.2,320.0 889.7,321.3 890.1,322.6 890.6,323.9 891.2,325.2 891.7,326.5 892.3,327.8 892.8,329.0 893.4,330.3 893.9,331.6 894.4,332.9 894.9,334.2" stroke="#741b37" stroke-width="5"/>
</g>
<!-- frame -->
<rect x="113.5" y="74" width="762" height="609.5" fill="none" stroke="#1d3a54" stroke-width="3"/>
<!-- texts -->
<text x="305.3" y="25.7" font-size="25.4">Foreign Object Frequency Shift</text>
<text x="192" y="103" font-size="25.6" textLength="436.5" lengthAdjust="spacing">Without: 40 V Peak-to-Peak 103 kHz</text>
<text x="451.7" y="661.3" font-size="25.6" textLength="383" lengthAdjust="spacing">With: 4 V Peak-to-Peak 303 kHz</text>
<text x="440.6" y="770.8" font-size="24.6">Time (µs)</text>
<text transform="translate(26.4,474.7) rotate(-90)" x="0" y="0" font-size="25.5">Tank Voltage (V)</text>
<g font-size="25.5" text-anchor="end">
<text x="103.5" y="82">50</text>
<text x="103.5" y="202.5">30</text>
<text x="103.5" y="323.7">10</text>
<text x="103.5" y="448">–10</text>
<text x="103.5" y="567">–30</text>
<text x="103.5" y="692">–50</text>
</g>
<g font-size="25.5" text-anchor="middle">
<text x="114" y="721.5">–20</text>
<text x="304" y="721.5">–10</text>
<text x="494.4" y="721.5">0</text>
<text x="684" y="721.5">10</text>
<text x="875.7" y="721.5">20</text>
</g>
<text x="716.7" y="775" font-size="19.2" style="font-weight:normal;fill:#d0e3c6;stroke:none">www.cntronics.com</text>
</svg>
</body></html>
